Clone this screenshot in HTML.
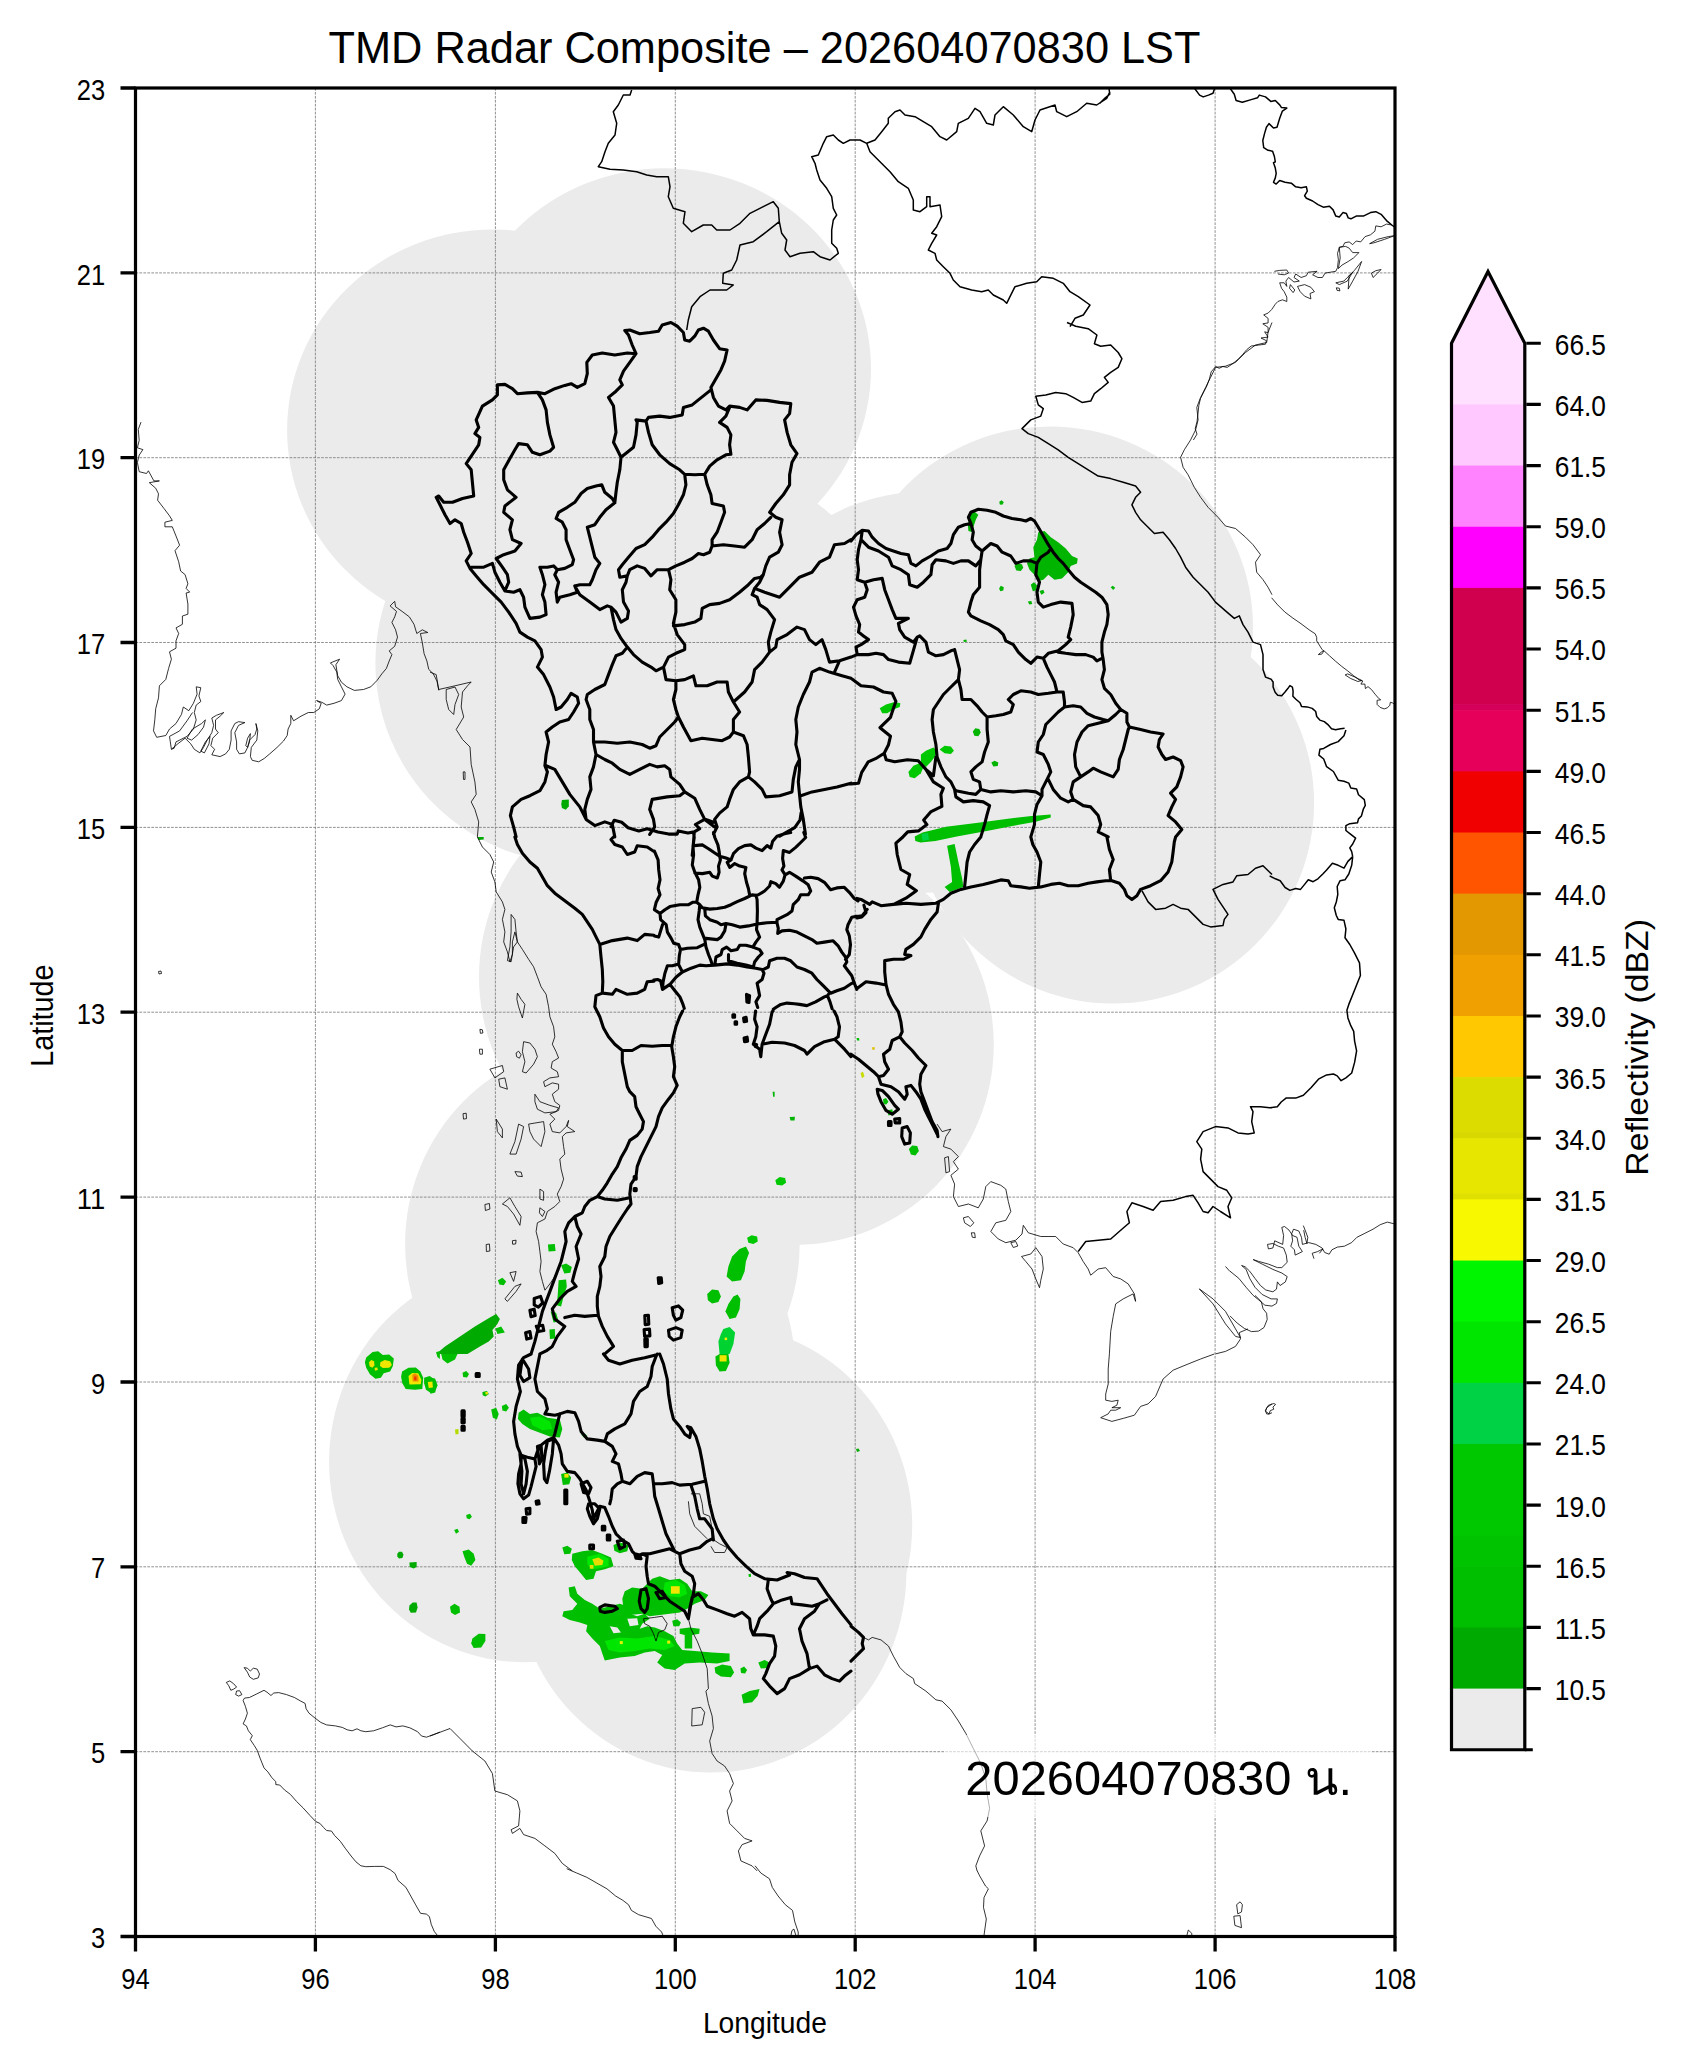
<!DOCTYPE html>
<html lang="th"><head><meta charset="utf-8"><title>TMD Radar Composite</title>
<style>
html,body{margin:0;padding:0;background:#fff;}
body{width:1686px;height:2070px;overflow:hidden;font-family:"Liberation Sans",sans-serif;}
svg{display:block}
text{font-family:"Liberation Sans",sans-serif;fill:#000}
text.ts{font-family:"Liberation Sans","Loma","Garuda","Noto Sans Thai","DejaVu Sans",sans-serif}
</style></head><body>
<svg width="1686" height="2070" viewBox="0 0 1686 2070">
<rect width="1686" height="2070" fill="#fff"/>
<defs><clipPath id="ax"><rect x="135.5" y="88.0" width="1259.5" height="1848.5"/></clipPath></defs>

<g clip-path="url(#ax)">
<g fill="#EBEBEB"><ellipse cx="664.6" cy="368.9" rx="206.4" ry="200.6"/><ellipse cx="492.6" cy="430.0" rx="205.5" ry="200.6"/><ellipse cx="578.0" cy="663.0" rx="202.6" ry="200.6"/><ellipse cx="694.9" cy="663.3" rx="202.6" ry="200.6"/><ellipse cx="925.9" cy="692.2" rx="202.2" ry="200.6"/><ellipse cx="1050.0" cy="627.0" rx="203.0" ry="200.6"/><ellipse cx="1113.0" cy="803.0" rx="201.1" ry="200.6"/><ellipse cx="678.4" cy="977.0" rx="199.4" ry="200.6"/><ellipse cx="795.0" cy="1044.3" rx="198.8" ry="200.6"/><ellipse cx="602.4" cy="1243.9" rx="197.3" ry="200.6"/><ellipse cx="598.8" cy="1369.6" rx="196.4" ry="200.6"/><ellipse cx="525.0" cy="1461.7" rx="195.9" ry="200.6"/><ellipse cx="716.6" cy="1524.9" rx="195.6" ry="200.6"/><ellipse cx="711.0" cy="1572.0" rx="195.4" ry="200.6"/></g>

<path d="M315.4 88.0V1936.5M495.4 88.0V1936.5M675.3 88.0V1936.5M855.2 88.0V1936.5M1035.1 88.0V1936.5M1215.1 88.0V1936.5M135.5 1751.7H1395.0M135.5 1566.8H1395.0M135.5 1382.0H1395.0M135.5 1197.1H1395.0M135.5 1012.2H1395.0M135.5 827.4H1395.0M135.5 642.5H1395.0M135.5 457.7H1395.0M135.5 272.9H1395.0" fill="none" stroke="#7d7d7d" stroke-width="0.85" stroke-dasharray="2.7 1.25"/>
<path d="M1038.3 532.2L1044.5 531.0L1050.8 537.2L1058.2 542.2L1065.7 548.5L1072.0 556.0L1077.7 558.5L1077.0 563.4L1070.7 565.9L1068.2 572.2L1062.0 578.4L1054.5 579.7L1048.3 574.7L1043.3 579.7L1038.3 580.9L1034.5 574.7L1029.5 569.7L1027.0 563.4L1029.5 558.5L1034.5 557.2L1033.3 547.2L1037.0 539.7Z" fill="#00B400"/>
<path d="M1014.5 565.9L1017.0 563.4L1022.0 564.2L1023.3 567.7L1020.8 570.9L1016.3 570.4Z" fill="#00B400"/>
<path d="M999.1 588.4L1000.8 585.7L1003.8 587.2L1003.3 590.4L1000.3 591.2Z" fill="#00B400"/>
<path d="M1030.8 584.7L1033.8 582.2L1037.0 585.2L1036.3 590.2L1032.8 591.2Z" fill="#00B400"/>
<path d="M1039.5 590.9L1043.3 589.7L1044.5 592.7L1041.3 594.7Z" fill="#00B400"/>
<path d="M1027.8 601.6L1031.3 600.9L1032.3 604.1L1029.3 604.6Z" fill="#00B400"/>
<path d="M969.6 513.5L974.6 511.8L978.3 514.8L975.8 519.8L973.3 527.2L972.8 532.2L968.4 531.0L967.9 524.7L968.9 519.8Z" fill="#00B400"/>
<path d="M999.3 501.8L1001.6 500.3L1003.8 502.3L1002.3 504.8L999.8 504.5Z" fill="#00B400"/>
<path d="M1110.7 587.2L1112.7 585.7L1115.2 587.7L1113.2 589.9Z" fill="#00B400"/>
<path d="M963.4 640.1L966.4 639.6L966.9 641.8L963.9 642.1Z" fill="#00B400"/>
<path d="M879.7 708.3L886.0 704.5L894.7 702.0L900.4 703.3L899.7 707.0L893.4 709.5L887.2 713.3L882.2 713.3Z" fill="#00C800"/>
<path d="M972.8 731.5L975.3 728.2L979.3 729.0L980.8 732.5L978.3 736.2L974.3 735.7Z" fill="#00B400"/>
<path d="M939.6 749.5L944.6 745.7L950.9 746.5L953.9 750.7L950.9 754.0L944.6 753.2Z" fill="#00C800"/>
<path d="M920.9 754.5L925.9 750.7L933.4 747.5L937.1 750.7L934.6 757.0L930.9 761.9L925.9 766.9L920.9 763.2Z" fill="#00C800"/>
<path d="M908.4 771.9L913.4 765.7L919.7 763.2L923.4 766.9L920.9 773.2L914.7 778.2L909.7 776.9Z" fill="#00C800"/>
<path d="M991.3 762.4L994.6 760.7L998.3 762.4L997.8 765.9L993.3 766.4Z" fill="#00B400"/>
<path d="M914.7 836.6L922.6 832.4L946.1 826.8L978.1 822.7L1008.0 818.7L1031.5 816.1L1050.7 814.6L1050.7 817.6L1035.8 821.7L1012.3 825.9L986.7 831.1L956.8 836.6L935.4 840.9L920.5 842.6L915.3 840.9Z" fill="#00BE00"/>
<path d="M921.5 834.1L927.9 833.0L929.0 839.4L922.6 840.9Z" fill="#00D246"/>
<path d="M561.9 799.9L568.8 799.5L568.8 806.3L565.8 809.7L561.9 808.0L561.3 804.2Z" fill="#00AA00"/>
<path d="M477.4 837.0L483.7 837.0L483.7 839.5L478.7 840.0Z" fill="#00AA00"/>
<path d="M772.6 1091.7L774.6 1091.7L774.6 1096.7L773.1 1096.7Z" fill="#00B400"/>
<path d="M789.6 1117.1L795.0 1116.7L794.5 1120.4L790.5 1120.6Z" fill="#00B400"/>
<path d="M775.3 1180.3L779.6 1177.1L785.1 1178.1L786.1 1182.8L782.1 1185.6L776.6 1184.8Z" fill="#00C800"/>
<path d="M747.1 1237.7L751.6 1235.3L757.1 1236.5L757.8 1241.5L753.3 1244.0L748.4 1242.7Z" fill="#00C800"/>
<path d="M739.6 1249.0L745.9 1246.5L749.1 1252.7L745.9 1261.5L744.6 1271.5L740.9 1280.2L732.1 1281.4L726.6 1276.5L728.4 1266.5L732.1 1256.5Z" fill="#00BE00"/>
<path d="M707.2 1293.9L712.1 1289.4L718.4 1290.2L720.9 1296.4L718.4 1301.9L712.1 1303.4L707.9 1300.2Z" fill="#00BE00"/>
<path d="M733.4 1296.4L737.6 1294.4L740.4 1298.9L739.6 1308.9L735.9 1317.6L729.6 1318.9L725.4 1311.4L728.4 1303.9Z" fill="#00BE00"/>
<path d="M723.4 1328.9L729.6 1326.9L735.1 1332.6L733.4 1343.9L729.6 1353.9L719.6 1353.9L718.4 1341.4L720.9 1333.9Z" fill="#00D232"/>
<path d="M724.6 1337.6L727.1 1337.6L727.1 1340.1L724.6 1340.1Z" fill="#F0F000"/>
<path d="M547.9 1244.5L554.8 1244.0L555.6 1251.0L548.6 1251.5Z" fill="#00BE00"/>
<path d="M561.1 1265.2L566.1 1263.5L571.8 1267.0L570.3 1272.7L564.3 1273.5Z" fill="#00BE00"/>
<path d="M558.6 1280.2L566.1 1279.4L566.8 1286.4L563.6 1296.4L561.1 1306.4L556.8 1305.2L557.8 1293.9Z" fill="#00BE00"/>
<path d="M550.6 1311.4L556.1 1312.7L558.6 1321.4L553.6 1322.6Z" fill="#00BE00"/>
<path d="M549.4 1329.4L554.8 1328.9L555.3 1338.4L549.9 1338.9Z" fill="#00BE00"/>
<path d="M497.9 1280.2L502.4 1277.7L506.2 1281.4L503.7 1285.2L499.4 1284.4Z" fill="#00BE00"/>
<path d="M436.2 1353.9L445.0 1346.4L460.0 1336.4L474.9 1326.4L489.9 1317.6L496.2 1313.9L499.9 1318.9L497.4 1323.9L492.4 1330.1L493.7 1336.4L488.7 1341.4L479.9 1346.4L467.5 1353.9Z" fill="#00AA00"/>
<path d="M495.4 1328.4L501.2 1326.4L504.9 1332.6L497.4 1333.9Z" fill="#00BE00"/>
<path d="M947.1 845.7L954.6 844.0L958.4 862.0L962.1 878.2L963.4 886.9L949.6 891.9L944.6 886.9L952.1 881.9L950.9 867.0Z" fill="#00BE00"/>
<path d="M908.9 1149.1L912.2 1145.4L917.2 1146.1L918.9 1151.1L915.4 1155.4L910.9 1154.6Z" fill="#00BE00"/>
<path d="M883.0 1099.2L886.0 1097.9L888.5 1101.7L886.0 1104.7L883.5 1103.2Z" fill="#00BE00"/>
<path d="M887.2 1110.4L892.2 1109.2L893.4 1114.2L888.5 1115.4Z" fill="#00BE00"/>
<path d="M860.5 1073.0L863.0 1071.7L864.5 1076.2L862.0 1078.2Z" fill="#C8DC00"/>
<path d="M872.2 1047.2L874.7 1047.2L874.7 1049.7L872.2 1049.7Z" fill="#E0C000"/>
<path d="M856.5 1038.0L859.0 1038.0L859.5 1040.5L857.0 1040.5Z" fill="#00BE00"/>
<path d="M572.3 1553.8L582.3 1551.3L592.3 1550.0L602.3 1553.8L611.0 1557.5L613.5 1566.2L604.8 1569.2L596.0 1571.2L593.5 1578.7L586.1 1580.0L581.1 1573.7L574.8 1566.2L571.8 1560.0Z" fill="#00BE00"/>
<path d="M587.3 1556.7L599.8 1553.8L608.5 1558.7L608.5 1566.2L599.8 1568.2L591.0 1569.2L587.3 1563.7Z" fill="#00E600"/>
<path d="M592.3 1559.2L598.5 1557.5L603.5 1560.7L602.3 1565.0L594.8 1565.7Z" fill="#E6DC00"/>
<path d="M589.8 1565.0L593.5 1565.0L593.5 1568.7L589.8 1568.7Z" fill="#E6DC00"/>
<path d="M562.3 1547.5L567.3 1545.8L571.8 1548.8L570.3 1553.8L564.3 1554.2Z" fill="#00BE00"/>
<path d="M613.5 1545.0L619.8 1542.5L628.5 1545.0L627.3 1551.3L619.8 1553.3L614.3 1550.8Z" fill="#00BE00"/>
<path d="M568.6 1587.5L574.8 1586.2L577.3 1593.7L584.8 1599.9L592.3 1603.7L599.8 1608.7L609.8 1606.2L619.8 1603.7L627.3 1606.2L629.8 1613.7L637.2 1616.2L644.7 1613.7L649.7 1618.7L642.2 1623.7L639.7 1628.7L647.2 1626.2L654.7 1627.4L664.7 1631.2L673.4 1636.1L677.2 1643.6L682.2 1649.9L694.7 1651.1L712.1 1652.4L729.6 1653.6L729.6 1661.1L717.1 1663.6L699.7 1662.4L684.7 1663.6L674.7 1669.9L664.7 1668.6L657.2 1662.4L662.2 1654.9L654.7 1651.1L644.7 1652.4L634.7 1656.1L619.8 1657.4L604.8 1660.6L602.3 1653.6L599.8 1646.1L592.3 1638.6L586.1 1631.2L587.3 1624.9L579.8 1622.4L569.8 1619.9L562.3 1616.2L563.6 1611.2L572.3 1609.9L577.3 1603.7L569.8 1596.2Z" fill="#00BE00"/>
<path d="M609.8 1626.2L617.3 1627.4L621.0 1632.4L613.5 1633.2Z" fill="#EBEBEB"/>
<path d="M627.3 1618.7L637.2 1618.2L638.5 1624.9L629.8 1626.2Z" fill="#EBEBEB"/>
<path d="M604.8 1641.1L619.8 1637.4L637.2 1638.6L654.7 1636.1L669.7 1639.9L674.7 1646.1L664.7 1649.9L649.7 1648.6L634.7 1651.1L619.8 1652.4L608.5 1649.9Z" fill="#00E600"/>
<path d="M619.8 1641.1L622.8 1641.1L622.8 1644.1L619.8 1644.1Z" fill="#E6F000"/>
<path d="M667.2 1640.6L670.2 1640.6L670.2 1643.6L667.2 1643.6Z" fill="#E6F000"/>
<path d="M624.8 1591.2L632.2 1587.5L642.2 1588.7L652.2 1578.7L659.7 1576.2L669.7 1580.0L679.7 1578.7L687.2 1583.7L692.2 1591.2L700.9 1591.2L708.4 1594.9L704.7 1599.9L694.7 1603.7L687.2 1608.7L679.7 1612.4L669.7 1613.7L659.7 1614.9L649.7 1616.2L642.2 1613.7L629.8 1614.9L623.5 1608.7L622.3 1598.7Z" fill="#00BE00"/>
<path d="M664.7 1582.5L675.9 1580.0L684.7 1585.0L687.2 1593.7L679.7 1597.4L669.7 1596.2L663.5 1591.2Z" fill="#00E600"/>
<path d="M670.9 1586.2L679.7 1586.2L679.7 1593.7L670.9 1593.7Z" fill="#F0E600"/>
<path d="M679.7 1628.7L689.7 1627.4L699.7 1628.7L699.2 1633.7L692.2 1634.9L692.2 1648.6L684.7 1648.6L684.7 1634.9L679.7 1633.7Z" fill="#00BE00"/>
<path d="M672.2 1620.7L677.2 1619.2L680.9 1622.4L679.2 1626.2L673.4 1626.2Z" fill="#00BE00"/>
<path d="M714.6 1667.4L722.1 1664.4L730.9 1666.1L734.1 1672.4L730.9 1677.3L720.9 1676.6L715.4 1673.1Z" fill="#00BE00"/>
<path d="M740.4 1668.6L744.1 1666.6L747.1 1669.9L745.1 1673.6L741.1 1673.1Z" fill="#00BE00"/>
<path d="M758.3 1662.4L764.6 1659.9L769.6 1662.4L767.6 1668.1L760.8 1668.6Z" fill="#00BE00"/>
<path d="M741.6 1694.8L749.6 1691.1L759.6 1689.1L757.6 1696.1L752.1 1702.3L743.4 1703.6Z" fill="#00BE00"/>
<path d="M441.2 1354.0L457.5 1354.0L455.0 1359.5L447.5 1363.5L442.5 1359.5Z" fill="#00BE00"/>
<path d="M430.0 1377.7L435.0 1378.5L437.5 1385.2L433.7 1392.7L430.0 1393.5Z" fill="#00BE00"/>
<path d="M430.0 1383.5L432.5 1383.5L432.5 1387.7L430.0 1387.7Z" fill="#F0E600"/>
<path d="M462.5 1372.7L466.2 1371.0L469.0 1374.0L467.0 1377.5L463.2 1377.0Z" fill="#00BE00"/>
<path d="M482.4 1392.0L486.9 1391.0L488.9 1394.0L485.4 1396.4L482.7 1395.2Z" fill="#00BE00"/>
<path d="M485.4 1392.0L487.9 1392.0L487.9 1394.4L485.4 1394.4Z" fill="#F0E600"/>
<path d="M491.2 1409.4L496.2 1407.7L498.7 1413.9L496.9 1419.4L492.9 1417.7Z" fill="#00BE00"/>
<path d="M501.9 1405.9L506.2 1403.9L508.9 1407.7L506.2 1411.4L502.4 1410.4Z" fill="#00BE00"/>
<path d="M455.0 1429.4L458.5 1428.9L458.5 1433.9L455.5 1434.4Z" fill="#B4DC00"/>
<path d="M518.6 1412.7L523.6 1409.4L529.9 1413.9L537.4 1412.7L547.4 1417.7L559.8 1419.4L562.3 1428.9L559.8 1437.6L549.9 1436.4L539.9 1432.7L529.9 1428.9L522.4 1423.9L517.9 1418.9Z" fill="#00BE00"/>
<path d="M529.9 1417.7L539.9 1416.4L549.9 1421.4L552.3 1428.9L542.4 1430.2L532.4 1425.2Z" fill="#00E600"/>
<path d="M561.1 1473.9L567.3 1472.6L571.1 1477.6L569.3 1484.3L562.8 1485.1Z" fill="#00BE00"/>
<path d="M564.3 1473.9L568.6 1473.9L568.6 1477.6L564.3 1477.6Z" fill="#F0E600"/>
<path d="M466.2 1515.0L470.0 1513.8L471.9 1516.8L469.5 1519.3L466.7 1518.3Z" fill="#00BE00"/>
<path d="M454.2 1530.0L457.5 1528.8L459.0 1531.8L456.0 1533.8Z" fill="#00BE00"/>
<path d="M462.5 1551.3L468.7 1549.5L473.7 1553.8L475.4 1560.0L471.2 1565.7L467.0 1563.7L464.5 1557.5Z" fill="#00BE00"/>
<path d="M450.0 1606.7L454.5 1603.7L459.5 1606.7L460.0 1612.4L455.0 1614.9L451.0 1612.4Z" fill="#00BE00"/>
<path d="M472.4 1638.6L478.7 1633.7L485.4 1634.1L485.4 1641.1L481.2 1647.4L473.7 1648.1L471.2 1643.6Z" fill="#00BE00"/>
<path d="M715.4 1356.5L719.6 1354.0L728.4 1354.0L729.6 1362.7L725.9 1371.0L719.6 1371.5L715.9 1365.2Z" fill="#00BE00"/>
<path d="M719.6 1355.2L726.6 1355.2L726.6 1361.5L719.6 1361.5Z" fill="#F0E600"/>
<path d="M581.1 1434.4L584.8 1433.4L587.3 1435.9L584.3 1437.9Z" fill="#00BE00"/>
<path d="M748.4 1574.2L750.8 1573.7L751.1 1576.7L748.9 1577.0Z" fill="#00BE00"/>
<path d="M856.0 1448.9L858.5 1448.4L860.0 1450.9L857.0 1451.9Z" fill="#00AA00"/>
<path d="M366.2 1357.6L372.6 1352.1L378.2 1351.2L382.8 1354.9L389.2 1354.5L393.8 1358.5L392.9 1365.9L390.1 1371.4L383.7 1373.2L380.9 1377.8L375.4 1378.8L369.9 1374.2L366.2 1367.7L364.9 1362.2Z" fill="#00BE00"/>
<path d="M369.0 1362.2L371.2 1360.0L374.1 1361.3L374.5 1365.5L372.3 1367.7L369.5 1366.2Z" fill="#F0E600"/>
<path d="M380.4 1362.2L384.6 1360.0L390.1 1361.3L391.9 1365.0L389.2 1367.7L382.8 1368.1L380.0 1365.9Z" fill="#F0E600"/>
<path d="M374.5 1367.7L377.4 1367.4L377.8 1370.1L375.0 1370.7Z" fill="#F0E600"/>
<path d="M402.1 1371.4L408.5 1367.7L415.8 1367.4L420.4 1371.4L423.2 1377.8L422.3 1388.9L414.9 1389.8L405.7 1388.9L402.4 1383.3L401.1 1376.9Z" fill="#00BE00"/>
<path d="M408.5 1376.0L412.2 1372.9L418.2 1373.2L421.4 1379.7L420.8 1384.3L409.4 1384.6Z" fill="#F0E600"/>
<path d="M412.2 1375.1L414.9 1373.2L418.2 1375.4L418.6 1381.5L412.7 1381.5Z" fill="#F08C00"/>
<path d="M414.2 1376.5L416.4 1376.5L416.4 1380.2L414.2 1380.2Z" fill="#F03000"/>
<path d="M424.1 1377.8L429.6 1376.0L435.1 1379.7L437.0 1386.1L435.1 1392.5L431.5 1393.5L426.0 1389.8L424.1 1383.3Z" fill="#00BE00"/>
<path d="M427.8 1382.1L432.4 1381.5L432.9 1387.6L428.7 1387.9Z" fill="#F0E600"/>
<path d="M436.1 1352.1L439.9 1351.2L439.9 1358.9L437.4 1357.1Z" fill="#00BE00"/>
<path d="M397.3 1553.7L399.0 1551.7L402.0 1551.7L403.5 1554.7L402.4 1558.0L399.0 1558.6L397.3 1556.6Z" fill="#00AA00"/>
<path d="M409.4 1562.5L416.6 1561.9L416.6 1567.0L413.7 1568.6L409.8 1567.0Z" fill="#00AA00"/>
<path d="M409.4 1605.5L412.7 1602.6L416.6 1602.6L417.6 1607.5L416.0 1612.4L410.8 1612.8L409.0 1609.5Z" fill="#00AA00"/>

<path d="M566.7 1868.7L576.7 1873.0L586.8 1877.3L596.9 1883.1L606.9 1888.8L615.6 1896.0L622.8 1900.3L628.5 1904.7L631.4 1910.4L638.6 1914.7L651.5 1918.5L655.8 1926.2L661.6 1932.0L663.0 1935.4M755.1 1865.8L760.8 1873.0L769.5 1878.8L772.3 1887.4L778.1 1896.0L785.3 1904.7L792.5 1910.4L794.8 1921.9L798.2 1932.0L798.2 1935.4M791.0 1935.4L791.9 1930.6L793.9 1929.1L795.9 1935.4M977.1 1870.7L979.7 1875.9L985.5 1886.0L988.4 1888.8L984.0 1897.5L983.5 1907.5L986.3 1919.0L984.0 1935.4M1236.6 1904.7L1240.1 1901.8L1242.4 1904.7L1241.5 1911.9L1237.8 1913.9ZM1233.8 1916.2L1240.1 1915.6L1241.5 1927.7L1234.9 1925.4ZM1186.9 1935.4L1188.3 1930.0L1191.8 1933.4L1191.8 1935.4M1271.6 597.8L1277.7 604.9L1284.8 612.0L1292.9 618.1L1301.0 623.7L1309.1 629.8L1315.2 633.8L1316.7 637.4L1316.7 640.9L1319.3 645.0L1321.8 649.1L1323.8 651.1L1321.8 654.1L1318.3 654.6L1321.3 652.1L1323.8 650.6L1329.4 655.7L1335.5 661.2L1341.6 666.3L1347.7 670.9L1353.8 675.9L1359.3 680.0L1362.9 681.0L1360.9 684.1L1364.9 684.1L1365.4 688.6L1368.0 686.6L1371.5 689.6L1375.1 694.2L1378.6 698.3L1380.7 699.8L1377.1 700.3L1377.1 704.4L1380.1 707.4L1384.2 708.9L1387.2 707.9L1389.8 705.4L1390.3 702.3L1392.3 702.8L1395.6 704.9M1345.1 674.9L1347.7 673.9L1354.8 677.0L1361.9 680.5L1357.8 681.5L1350.7 678.5ZM1394.5 1223.9L1387.3 1222.1L1380.2 1224.7L1373.0 1229.2L1364.1 1233.7L1356.9 1237.3L1351.6 1242.6L1344.4 1246.2L1337.3 1247.1L1331.9 1249.8L1329.2 1254.2L1324.7 1252.5L1322.1 1248.0L1315.8 1244.4L1308.7 1242.6L1302.4 1244.4L1301.5 1237.3L1298.8 1231.0L1293.5 1229.2L1291.7 1233.7L1292.6 1240.8L1290.8 1246.2L1294.4 1249.8L1295.2 1255.1L1302.4 1251.6L1298.8 1246.2L1297.0 1237.3L1292.6 1235.5L1289.0 1230.1L1284.5 1226.5L1281.8 1227.4L1283.6 1235.5L1282.7 1244.4L1274.7 1240.8L1272.9 1248.0L1268.4 1248.9L1267.5 1244.4L1272.9 1243.5L1278.3 1246.2L1283.6 1248.0L1286.3 1255.1L1287.2 1262.3L1281.8 1267.6L1277.4 1267.6L1268.4 1264.1L1258.6 1261.4L1253.2 1259.6L1262.2 1264.1L1272.9 1269.4L1281.8 1273.0L1287.2 1276.6L1285.4 1281.9L1280.1 1285.5L1277.4 1281.9L1276.5 1289.1L1272.9 1291.8L1265.8 1290.0L1260.4 1285.5L1255.0 1278.4L1249.7 1271.2L1245.2 1266.8L1241.6 1265.5L1246.1 1269.4L1249.7 1278.4L1255.0 1287.3L1262.2 1294.5L1271.1 1298.9L1277.4 1298.9L1276.5 1303.4L1272.0 1306.1L1264.9 1305.2L1258.6 1299.8L1253.2 1295.4L1246.1 1287.3L1238.9 1278.4L1230.0 1271.2M1230.0 1315.9L1237.2 1323.1L1244.3 1328.4L1251.5 1331.6L1258.6 1331.1L1264.0 1327.5L1267.2 1319.5L1266.6 1313.2L1263.1 1308.8L1261.3 1301.6L1255.0 1295.4M1303.3 1225.6L1305.1 1230.1L1307.8 1237.3L1306.9 1243.5L1305.1 1237.3L1303.7 1230.1M1314.0 1258.7L1312.2 1253.3L1317.6 1251.6L1323.0 1248.9L1319.4 1253.3M1265.4 1410.3L1268.4 1405.3L1273.8 1403.5L1275.6 1404.4L1272.9 1407.1L1273.8 1409.2L1270.2 1410.7L1269.0 1414.2L1266.6 1413.9ZM1272.0 322.5L1268.0 332.5L1266.7 342.5L1255.5 345.0L1245.5 352.5L1235.5 362.4L1225.5 366.2L1215.5 367.4L1210.6 377.4L1205.6 387.4L1200.6 397.4L1196.8 407.4L1198.1 419.9L1195.6 429.9L1190.6 439.9L1184.3 449.8L1180.6 457.3L1183.1 467.3L1188.1 474.8L1194.3 487.3L1200.6 497.3L1208.1 507.3L1218.0 517.3L1225.5 526.0L1235.5 528.5L1245.5 537.2L1253.0 544.7L1260.5 554.7L1255.5 562.2L1256.7 572.2L1263.0 579.7L1268.0 587.2L1272.0 594.7M477.4 837.0L482.4 847.0L489.9 854.5L493.7 862.0L491.2 872.0L494.9 881.9L496.2 891.9L502.4 901.9L504.9 909.4L502.4 919.4L504.9 931.9L503.7 941.9L507.4 951.9L509.9 961.8L512.4 954.4L512.4 941.9L514.9 931.9L517.4 941.9L522.4 949.4L528.6 959.3L533.6 966.8L537.4 976.8L541.1 986.8L546.1 994.3L548.6 1006.8L549.9 1016.8L553.6 1026.8L554.8 1036.8L552.3 1044.2L556.1 1051.7L558.6 1058.0L552.3 1061.7L551.1 1068.0L557.3 1071.7L558.6 1076.7L549.9 1077.9L543.6 1081.7L544.9 1086.7L552.3 1082.9L558.6 1084.2L558.6 1089.2L552.3 1094.2L554.8 1101.7L559.8 1105.4L558.6 1110.4L549.9 1114.2L554.8 1119.1L549.9 1124.1L552.3 1131.6L559.8 1132.9L566.1 1126.6L568.6 1120.4L567.3 1126.6L574.8 1131.6L566.1 1132.9L562.3 1136.6L563.6 1146.6L564.8 1154.1L559.8 1159.1L561.1 1169.1L563.6 1179.1L561.1 1186.6L557.3 1194.1L559.8 1201.5L554.8 1206.5L547.4 1211.5L544.9 1219.0L537.4 1222.8L536.1 1231.5L538.6 1241.5L539.9 1251.5L541.1 1261.5L539.9 1271.5L542.4 1281.4L544.9 1290.2L549.9 1283.9L554.8 1276.5L559.8 1266.5M511.1 914.4L514.9 919.4L516.1 931.9L517.4 941.9L513.6 946.9L511.1 961.8L507.4 960.6L509.9 946.9L511.1 931.9ZM517.4 993.1L521.1 999.3L524.9 1004.3L522.4 1018.0L518.6 1006.8L516.9 999.3ZM523.6 1041.7L529.9 1043.0L534.9 1049.2L537.4 1056.7L533.6 1064.2L526.1 1073.0L522.4 1071.7L524.9 1061.7L522.4 1051.7ZM516.1 1053.0L518.6 1051.2L521.1 1054.7L519.4 1058.2L516.6 1056.7ZM489.9 1069.2L502.4 1065.5L503.7 1071.7L494.9 1077.9ZM498.7 1079.2L504.9 1077.9L507.4 1089.2L499.9 1086.7ZM534.9 1094.2L539.9 1101.7L549.9 1105.4L558.6 1107.9L556.1 1111.7L544.9 1112.9L537.4 1109.2L534.9 1101.7ZM528.6 1124.1L543.6 1121.6L544.9 1131.6L541.1 1146.6L533.6 1139.1L529.9 1131.6ZM518.6 1124.1L523.6 1126.6L521.1 1139.1L516.1 1154.1L509.9 1154.1L514.9 1141.6ZM496.2 1119.1L502.4 1129.1L502.4 1137.9L497.4 1131.6ZM514.9 1171.6L521.1 1172.1L522.4 1176.6L517.4 1176.1ZM502.4 1204.0L509.9 1197.8L514.9 1206.5L521.1 1216.5L519.9 1225.3L513.6 1214.0L507.4 1206.5ZM484.9 1204.5L489.4 1203.5L489.9 1209.0L485.4 1210.5ZM539.9 1189.1L543.6 1191.6L543.6 1200.3L539.9 1199.0ZM539.9 1207.8L544.9 1211.5L542.4 1216.5L539.4 1212.8ZM486.2 1244.5L489.4 1244.0L489.9 1251.0L486.4 1251.5ZM512.4 1240.7L516.1 1240.2L515.6 1244.0L512.6 1244.2ZM509.9 1272.7L516.1 1271.5L513.6 1281.4ZM504.9 1298.9L514.9 1286.4L521.1 1283.9L516.1 1291.4L507.4 1301.4ZM479.9 1029.3L482.4 1029.8L482.9 1033.0L480.4 1033.3ZM479.4 1049.2L482.4 1049.2L482.4 1054.2L479.9 1054.2ZM463.0 1113.7L466.2 1113.2L466.5 1118.6L463.5 1119.1ZM937.1 1124.1L942.1 1131.6L950.9 1129.1L945.9 1136.6L943.4 1146.6L950.9 1149.1L958.4 1156.6L953.4 1161.6L958.4 1169.1L950.9 1175.3L954.6 1184.1L953.4 1196.6L958.4 1206.5L968.4 1204.0L978.3 1207.8L983.3 1199.0L985.8 1186.6L990.8 1181.6L1000.8 1185.3L1005.8 1189.1L1008.3 1201.5L1010.8 1211.5L1005.8 1220.3L995.8 1222.8L990.8 1231.5L998.3 1239.0L1005.8 1242.7L1015.8 1240.2L1022.0 1234.0L1023.3 1225.3L1028.3 1232.8L1040.8 1236.5L1055.7 1236.5L1063.2 1244.0L1073.2 1247.7L1078.2 1252.7L1083.2 1261.5L1088.2 1269.0L1090.7 1275.2L1098.2 1269.0L1105.7 1267.7L1113.2 1276.5L1120.7 1278.9L1128.2 1283.9L1134.4 1293.9L1135.6 1301.4L1133.1 1293.9L1123.2 1298.9L1115.7 1303.9L1113.2 1316.4L1110.7 1331.4L1109.4 1353.9M944.6 1157.8L948.4 1156.6L949.6 1171.6L945.9 1172.8ZM963.4 1217.8L968.4 1216.5L973.8 1222.8L970.4 1226.5L964.6 1222.8ZM971.3 1232.8L974.6 1232.8L975.3 1237.7L972.3 1237.2ZM1010.8 1242.7L1015.8 1241.5L1017.8 1246.0L1013.3 1247.5ZM1021.5 1256.5L1030.8 1254.0L1035.8 1247.7L1042.0 1256.5L1043.3 1269.0L1040.8 1280.2L1039.5 1287.7L1035.8 1278.9L1032.0 1269.0L1025.8 1261.5ZM1199.3 1288.9L1213.0 1303.9L1225.5 1323.9L1235.5 1336.4L1240.5 1337.6L1235.5 1328.9L1225.5 1311.4L1213.0 1298.9ZM1225.5 1266.5L1230.0 1271.5M1248.0 1328.9L1239.3 1332.6L1240.5 1338.9L1235.5 1346.4L1225.5 1351.4L1215.5 1353.9M643.5 1618.7L654.7 1617.4L662.2 1616.2L667.2 1623.7L664.7 1629.9L658.5 1632.4L656.0 1641.1L653.5 1633.7L649.7 1626.2L644.7 1623.7ZM690.9 1493.8L699.7 1493.8L702.2 1503.8L703.4 1513.8L709.7 1516.3L712.1 1528.8L712.1 1538.8L719.6 1543.8L727.1 1547.5L724.6 1552.5L714.6 1552.5L710.9 1546.3M688.4 1501.3L689.7 1513.8L694.7 1526.3L702.2 1533.8L707.2 1538.8M688.4 1618.7L690.9 1628.7L697.2 1641.1L702.2 1653.6L707.2 1668.6L708.4 1688.6L705.9 1691.1L708.4 1703.6L712.1 1716.0L713.4 1728.5L709.7 1741.0L712.1 1753.5L717.1 1761.0L724.6 1766.0L729.6 1773.5L733.4 1783.5L729.6 1791.0L732.1 1800.9L727.1 1810.9L729.6 1823.4L737.1 1830.9L744.6 1838.4L752.1 1840.9L742.1 1844.6L738.4 1850.9L740.9 1860.9L752.1 1865.9L757.1 1870.9M692.2 1708.6L700.9 1707.3L704.7 1712.3L702.2 1724.8L691.7 1726.0ZM430.0 1736.0L450.0 1728.5L460.0 1738.5L472.4 1751.0L484.9 1761.0L492.4 1773.5L494.9 1791.0L507.4 1794.7L517.4 1800.9L519.9 1810.9L518.6 1825.9L511.1 1829.7L512.4 1833.4L519.9 1828.4L523.6 1834.6L534.9 1838.4L544.9 1845.9L554.8 1853.4L562.3 1863.4L572.3 1870.9M863.5 1637.4L868.5 1639.9L872.2 1637.4L881.0 1639.9L888.5 1646.1L893.4 1656.1L899.7 1667.4L905.9 1673.6L913.4 1678.6L914.7 1683.6L925.9 1691.1L935.9 1699.8L942.1 1701.1L950.9 1709.8L958.4 1721.0L965.9 1733.5L973.3 1748.5L980.8 1763.5L985.8 1778.5L987.1 1793.5L989.6 1808.4L987.1 1820.9L980.8 1830.9L984.6 1845.9L979.6 1855.9L975.8 1865.9L977.1 1870.9M1109.4 1354.0L1108.2 1369.0L1108.2 1384.0L1105.7 1394.0L1105.7 1400.2L1111.9 1401.4L1118.2 1400.2L1116.9 1405.2L1111.9 1407.7L1120.7 1407.7L1115.7 1410.2L1110.7 1410.2L1108.2 1413.9L1100.7 1417.7L1111.9 1421.4L1123.2 1418.4L1134.4 1415.2L1140.6 1406.4L1148.1 1403.9L1155.6 1396.4L1163.1 1379.0L1173.1 1370.2L1188.1 1364.0L1200.6 1359.0L1214.3 1354.0M1272.0 1403.9L1266.7 1407.7L1265.5 1411.4L1269.2 1413.9L1272.0 1412.7M1391.8 225.0L1386.5 224.1L1381.1 226.8L1375.8 225.9L1374.9 231.2L1370.5 234.8L1365.1 236.6L1360.7 241.9L1356.2 241.0L1352.7 244.6L1349.1 241.9L1344.7 242.8L1342.9 246.4L1339.3 247.3L1337.5 253.5L1338.4 259.7L1337.5 267.7L1335.8 271.3L1330.4 272.2L1325.1 273.1L1322.4 277.5L1318.0 277.5L1312.6 274.8L1317.1 271.3L1308.2 272.2L1306.4 275.7L1301.1 277.5L1295.7 274.0L1294.0 277.5L1299.3 281.1L1294.0 282.0L1288.6 277.5L1285.9 281.1L1286.8 286.4L1284.2 282.8L1279.7 282.8L1281.5 288.2L1284.2 291.7L1286.8 297.1L1286.8 301.5L1282.4 299.8L1277.9 301.5L1275.3 304.2L1271.7 309.5L1268.1 313.1L1263.7 314.9L1268.1 318.4L1268.1 322.9L1262.8 323.8L1268.1 327.3L1268.1 332.7L1264.6 331.8L1268.1 337.1L1261.0 338.0L1266.4 340.7L1265.5 344.2L1258.4 345.1L1251.2 346.0L1246.8 349.6L1242.3 354.9L1237.9 359.4L1232.6 363.8L1227.2 367.4L1222.8 366.5L1219.2 368.3L1215.7 366.5L1211.2 371.8L1209.4 378.9L1206.8 386.0L1204.1 391.4L1200.5 398.5L1198.8 405.6L1197.9 414.5L1197.0 421.6L1195.2 428.8L1197.0 434.1L1193.4 440.0M1274.4 271.3L1279.7 270.4L1286.8 270.0L1288.6 273.1L1284.2 274.8L1277.9 274.0M1339.3 247.3L1345.6 246.4L1349.1 248.1L1352.7 252.6L1358.9 252.6L1353.6 257.9L1348.2 261.5L1342.0 265.1L1338.4 268.6L1340.2 257.9ZM1349.1 275.7L1354.4 270.4L1361.6 261.5L1358.0 271.3L1352.7 281.1L1348.2 289.1ZM1335.8 282.8L1343.8 281.1L1352.7 272.2L1347.3 281.1L1339.3 284.6ZM1297.5 286.4L1304.6 284.6L1310.9 287.3L1314.4 291.7L1310.0 293.5L1310.9 298.9L1304.6 296.2L1300.2 291.7ZM1290.4 284.6L1294.8 290.0L1293.1 292.6L1289.5 288.2ZM1369.6 243.7L1377.6 239.3L1388.3 236.6L1394.5 235.7L1384.7 239.3L1374.0 242.8ZM1371.4 273.1L1375.8 270.7L1381.1 269.5L1377.6 273.1L1373.1 277.5ZM1336.3 287.8L1339.3 288.2L1339.9 290.9L1337.0 290.3ZM141.0 422.1L138.3 429.4L139.2 440.4L137.4 447.8L142.9 449.6L139.2 455.1L137.4 462.5L139.2 471.7L146.5 473.5L148.4 470.8L153.9 480.9L159.4 480.9L149.3 482.7L155.7 488.2L158.5 493.8L157.6 500.2L164.0 508.5L169.5 515.8L172.3 520.4L164.9 522.2L164.9 526.8L172.3 526.8L176.0 536.0L179.6 545.2L175.0 550.7L178.7 561.8L180.6 571.0L185.1 574.6L187.9 583.8L186.1 588.4L189.7 592.1L186.1 593.0L187.9 604.0L187.9 614.2L182.4 616.0L182.4 624.3L176.0 627.9L178.7 633.5L176.0 640.8L176.0 648.2L169.5 651.8L171.4 659.2L168.6 668.4L165.8 679.4L159.4 685.8L158.5 697.8L155.7 708.8L154.8 719.9L153.5 730.9L156.7 737.3L165.8 735.5L169.5 729.0L176.0 723.5L181.5 714.3L183.3 707.0L188.8 710.7L193.4 703.3L197.1 694.1L196.2 686.8L200.8 687.7L198.9 696.0L200.8 701.5L196.2 705.1L194.3 712.5L196.2 719.9L193.4 729.0L187.0 736.4L176.0 741.9L174.1 748.3L171.4 749.3L169.5 736.4L179.6 730.9L187.0 720.8L192.5 712.5M171.4 749.3L177.8 743.8L185.1 738.2L190.7 743.8L194.3 749.3L199.9 752.9L203.5 747.4L207.2 740.1L211.8 732.7L213.6 725.4L211.8 718.0L216.4 715.3L223.8 712.5L220.1 716.2L215.5 719.9L215.5 729.0L218.2 732.7L212.7 738.2L210.9 745.6L214.6 749.3L211.8 754.8L220.1 756.6L225.6 753.9L229.3 749.3L231.1 740.1L231.1 730.9L234.8 723.5L238.5 721.7L244.9 722.6L238.5 725.4L234.8 732.7L236.6 741.9L236.6 749.3L239.4 753.9L244.9 752.9L247.6 747.4L249.5 740.1L255.0 734.6L256.8 729.0L255.9 723.5L257.8 730.9L256.8 740.1L251.3 747.4L250.4 756.6L252.2 760.3L258.7 761.8L264.2 758.5L269.7 753.9L277.1 747.4L283.5 741.0L287.2 735.5L288.1 729.0L290.8 723.5L290.8 715.3L293.6 720.8L301.0 716.2L308.3 712.5L313.8 712.5L319.3 708.8L321.2 703.3L316.6 700.6L322.1 702.4L326.7 705.1L334.0 703.3L341.4 700.6L345.1 694.1L341.4 686.8L337.7 679.4L336.8 672.1L333.1 665.6L330.4 662.9L339.6 659.2L335.9 664.7L337.7 675.7L341.4 682.2L346.9 686.8L354.3 690.4L363.5 689.5L370.8 686.8L377.2 680.3L381.8 673.9L386.4 668.4L389.2 661.0L391.9 654.6L389.2 650.9L394.7 646.3L397.5 637.1L395.6 629.8L391.9 622.4L394.7 616.9L396.5 611.4L390.1 605.9L394.7 601.3L395.6 606.8L402.1 611.4L409.4 616.9L414.0 624.3L416.8 633.5L422.3 629.8L427.8 632.5L420.4 633.5L422.3 642.6L424.1 653.7L426.9 661.0L428.7 669.3L433.3 673.9L437.0 681.2L438.8 690.4M187.0 738.2L192.5 729.0L201.7 723.5L205.4 719.9L203.5 727.2L198.0 734.6L191.6 740.1ZM200.8 751.1L205.4 741.9L210.0 736.4L209.0 743.8L204.4 752.9ZM245.8 745.6L247.6 738.2L250.4 733.6L249.5 741.9L247.6 747.4ZM430.0 672.1L436.2 674.6L438.7 689.5L455.0 685.8L471.2 682.0L467.5 685.8L462.5 692.0L461.2 707.0L463.7 717.0L456.2 729.5L462.5 739.5L470.0 747.0L471.2 764.4L474.9 781.9L476.2 794.4L471.2 801.9L474.9 809.4L478.7 821.9L477.4 836.9M446.2 689.5L455.0 687.0L458.7 694.5L455.0 704.5L453.7 714.5L448.7 709.5L446.2 699.5ZM463.2 771.9L465.0 771.9L465.0 779.4L463.5 779.4ZM243.1 1700.4L244.5 1698.1L249.4 1697.5L256.2 1694.2L264.0 1690.3L267.0 1692.2L270.9 1695.5L273.8 1693.0L278.7 1692.6L286.5 1694.6L294.4 1697.5L300.2 1700.8L305.1 1703.4L306.1 1708.7L309.0 1713.2L314.9 1718.0L320.8 1722.4L326.6 1724.9L335.4 1725.9L342.3 1727.4L347.2 1729.8L352.1 1730.8L357.0 1728.8L360.9 1730.8L365.8 1731.7L373.6 1730.8L382.4 1727.8L390.2 1724.9L396.1 1726.9L402.9 1725.9L409.8 1727.8L417.6 1731.7L421.5 1736.0L426.4 1737.2L433.3 1734.7L439.9 1732.1M243.1 1700.4L245.4 1706.3L247.4 1713.2L245.4 1719.0L243.1 1723.9L246.4 1725.9L248.4 1730.8L252.3 1735.7L250.3 1739.6L254.2 1745.4L257.2 1750.3L260.1 1758.2L264.0 1767.9L267.9 1771.9L271.9 1777.7L275.8 1781.6L275.8 1784.6L279.7 1785.0L284.6 1790.0L290.4 1794.4L296.3 1801.2L303.2 1808.0L310.0 1815.5L315.9 1821.7L319.8 1823.3L323.7 1827.6L326.6 1830.5L331.5 1831.1L334.5 1835.4L340.3 1841.3L345.2 1848.2L351.1 1856.0L356.0 1861.9L360.9 1865.8L365.8 1866.7L374.6 1866.4L383.4 1866.4L390.2 1869.7L395.1 1873.6L398.0 1880.4L405.9 1887.3L410.8 1896.1L415.7 1904.9L420.5 1913.3L426.4 1914.1L429.4 1916.6L431.3 1924.5L434.2 1931.3L437.2 1935.2M244.1 1667.6L247.4 1668.2L250.3 1671.1L253.3 1668.2L257.2 1669.1L259.5 1674.0L258.2 1677.9L253.3 1679.3L249.7 1677.0L247.4 1672.1ZM226.3 1682.4L229.8 1680.9L233.7 1683.8L236.6 1687.1L233.7 1689.1L230.8 1690.3L228.8 1685.8ZM236.6 1691.0L239.6 1690.7L241.9 1694.6L238.6 1696.1L235.7 1694.6ZM158.5 971.5L161.0 971.0L161.5 973.5L159.0 974.0Z" fill="none" stroke="#000" stroke-width="0.8" stroke-linejoin="round"/>
<path d="" fill="none" stroke="#000" stroke-width="1.9" stroke-linejoin="round"/>
<path d="M1271.6 680.0L1273.1 682.0L1273.1 687.1L1275.1 692.2L1277.7 695.2L1281.7 695.7L1284.8 692.2L1287.8 688.6L1289.9 685.6L1292.4 687.1L1293.1 691.2L1292.9 696.2L1295.9 699.3L1300.0 702.8L1301.5 706.4L1307.1 706.9L1312.2 708.4L1315.7 711.5L1316.7 716.5L1319.8 720.1L1324.3 721.6L1327.9 724.6L1331.5 728.7L1335.5 729.7L1340.6 728.7L1344.6 728.2M1345.9 730.0L1344.0 735.8L1338.2 741.6L1330.5 744.5L1323.7 748.4L1319.9 749.3L1318.9 755.1L1323.7 759.0L1326.6 766.7L1333.4 771.5L1338.2 780.2L1344.0 781.2L1348.8 783.1L1350.8 788.0L1356.6 788.9L1358.5 794.7L1364.3 799.6L1365.3 805.4L1363.3 809.2L1361.4 816.0L1358.5 818.9L1357.5 822.8L1349.8 823.7L1345.9 825.7L1345.9 830.5L1350.8 834.3L1355.6 838.2L1352.7 844.0L1349.8 847.9L1351.7 851.7L1352.7 856.6M1352.7 856.6L1347.9 861.4L1344.0 868.2L1338.2 865.3L1332.4 863.3L1326.6 870.1L1322.8 874.0L1317.9 878.8L1313.1 881.7L1308.3 879.8L1304.4 884.6L1300.5 889.4L1295.7 888.5L1289.9 890.4L1285.1 887.5L1280.2 880.7L1275.4 878.8L1269.6 875.9M1352.7 856.6L1351.7 865.3L1348.8 874.0L1345.0 879.8L1340.1 880.7L1337.2 886.5L1337.8 894.3L1336.3 902.0L1334.3 907.8L1336.3 915.5L1338.2 919.4L1344.0 920.3L1345.9 929.0L1345.0 937.7L1349.8 944.5L1354.6 953.2L1359.5 962.9L1360.4 975.4L1356.6 985.1L1352.7 994.7L1348.8 1004.4L1346.9 1010.2L1347.9 1017.9L1350.8 1025.7L1353.7 1031.4L1354.6 1041.1L1356.6 1050.8L1354.6 1062.4L1351.7 1073.0L1345.9 1077.8L1341.1 1080.7L1337.2 1075.9L1333.4 1074.0L1326.6 1074.9L1318.9 1078.8L1311.2 1087.5L1303.4 1095.2L1295.7 1098.1L1286.0 1098.1L1281.2 1102.0L1277.3 1106.8L1269.6 1107.8M1067.0 322.5L1075.7 326.2L1088.2 328.7L1096.9 335.0L1094.4 343.7L1100.7 346.2L1110.7 345.0L1118.2 352.5L1121.9 358.7L1118.2 367.4L1110.7 372.4L1104.4 377.4L1108.2 382.4L1100.7 388.7L1094.4 393.7L1090.7 401.1L1082.0 402.4L1073.2 397.4L1065.7 393.7L1055.7 392.4L1045.8 394.9L1035.8 396.2L1038.3 404.9L1043.3 408.6L1040.8 416.1L1030.8 419.9L1022.0 428.6L1028.3 433.6L1038.3 437.4L1048.3 443.6L1058.2 449.8L1068.2 457.3L1078.2 463.6L1088.2 469.8L1098.2 476.1L1110.7 478.6L1123.2 482.3L1135.6 486.0L1140.6 492.3L1135.6 497.3L1131.9 504.8L1135.6 512.3L1140.6 519.8L1148.1 527.2L1154.4 533.5L1163.1 532.2L1169.4 539.7L1175.6 548.5L1180.6 557.2L1185.6 567.2L1193.1 577.2L1200.6 584.7L1208.1 592.2L1215.5 602.1L1225.5 610.9L1234.3 618.4L1239.3 615.9L1243.0 624.6L1248.0 632.1L1253.0 642.1L1260.5 644.6L1263.0 654.6L1263.0 669.6L1265.5 677.1L1272.0 679.6M1078.2 1251.5L1085.7 1241.5L1098.2 1240.2L1110.7 1239.0L1120.7 1230.3L1129.4 1222.8L1126.9 1211.5L1131.9 1202.8L1143.1 1206.5L1153.1 1210.3L1160.6 1201.5L1173.1 1200.3L1185.6 1196.6L1193.1 1195.3L1198.1 1202.8L1203.1 1211.5L1208.1 1212.8L1213.0 1206.5L1220.5 1211.5L1230.5 1217.8L1228.0 1206.5L1231.8 1197.8L1226.8 1190.3L1218.0 1186.6L1210.6 1179.1L1203.1 1171.6L1200.6 1159.1L1201.8 1149.1L1196.8 1141.6L1203.1 1131.6L1215.5 1126.6L1228.0 1127.9L1238.0 1132.9L1248.0 1134.1L1254.2 1132.9L1251.7 1121.6L1253.0 1111.7L1250.5 1106.7L1260.5 1106.7L1272.0 1107.9M1141.9 890.7L1148.1 901.9L1155.6 909.4L1165.6 908.2L1173.1 904.4L1180.6 908.2L1188.1 909.4L1195.6 916.9L1203.1 924.4L1210.6 926.9L1223.0 925.6L1224.3 919.4L1228.0 914.4L1223.0 906.9L1218.0 899.4L1213.0 889.4L1223.0 884.4L1233.0 881.9L1236.8 875.7L1248.0 874.5L1255.5 868.2L1263.0 865.7L1272.0 874.5M631.7 90.0L630.0 95.0L623.3 95.0L618.3 105.0L613.3 111.7L616.7 123.3L615.0 135.0L608.3 143.3L605.0 151.7L601.7 161.7L598.3 166.7L610.0 169.3L623.3 170.0L636.7 171.7L646.7 175.0L656.7 176.7L668.3 176.7L670.0 186.7L668.3 196.7L673.3 208.3L685.0 211.7L683.3 223.3L691.7 231.7L703.3 225.0L711.7 225.0L716.7 230.0L730.0 230.0L740.0 223.3L750.0 213.3L763.3 206.7L773.3 201.7L778.3 208.3L779.3 221.7M779.3 221.7L766.7 231.7L753.3 241.7L740.0 245.0L736.7 260.0L731.7 270.0L723.3 273.3L722.7 283.3L733.3 285.0L726.7 290.0L710.0 290.0L700.0 296.7L691.7 306.7L688.3 320.0L686.7 330.0M779.3 221.7L781.7 233.3L786.7 240.0L785.0 250.0L790.0 256.7L800.0 253.3L813.3 251.7L820.0 256.7L830.0 260.0L838.3 253.3L836.7 248.3L831.7 243.3L831.7 230.0L833.3 220.0L836.7 215.0L833.3 208.3L831.7 196.7L826.7 188.3L820.0 180.0L816.7 170.0L815.0 163.3L811.7 156.7L818.3 155.0L823.3 143.3L826.7 136.7L833.3 135.0L838.3 140.0L843.3 143.3L850.0 140.0L860.0 140.0L866.7 143.3M866.7 143.3L875.0 140.0L881.7 131.7L888.3 123.3L888.3 118.3L895.0 111.7L900.0 110.0L905.0 115.0L915.0 116.7L923.3 121.7L931.7 126.7L940.0 136.7L946.7 140.0L956.7 131.7L958.3 123.3L968.3 118.3L975.0 108.3L980.0 111.7L986.7 123.3L993.3 125.0L995.0 115.0L1003.3 106.7L1013.3 115.0L1023.3 126.7L1031.7 131.7L1035.0 120.0L1040.0 110.0L1055.0 105.0L1056.7 111.7L1066.7 116.7L1076.7 111.7L1086.7 103.3L1096.7 105.0L1106.7 98.3L1110.0 91.7M866.7 143.3L870.0 151.7L880.0 161.7L890.0 171.7L898.3 181.7L908.3 188.3L913.3 200.0L913.3 210.0L920.0 211.7L926.7 206.7L926.7 196.7L930.0 196.7L930.0 206.7L940.0 205.0L941.7 216.7L936.7 226.7L931.7 233.3L936.7 235.0L931.7 243.3L928.3 250.0L935.0 253.3L936.7 260.0L943.3 266.7L950.0 273.3L953.3 280.0L960.0 286.7L971.7 290.0L981.7 291.7L988.3 290.0L993.3 295.0L1003.3 300.0L1006.7 303.3L1010.0 296.7L1015.0 286.7L1026.7 283.3L1036.7 281.7L1041.7 276.7L1053.3 278.3L1063.3 283.3L1070.0 291.7L1078.3 296.7L1090.0 305.0L1083.3 315.0L1075.0 318.3L1070.0 326.7M1100.0 103.1L1105.3 97.8L1109.8 94.2L1108.9 88.0M1194.3 88.0L1199.6 95.1L1203.2 96.9L1208.5 95.1L1213.0 93.3L1214.8 88.0M1229.9 88.0L1234.3 94.2L1236.1 100.5L1242.3 102.2L1251.2 99.6L1257.5 97.8L1259.3 95.1L1265.5 96.9L1270.8 101.4L1275.3 100.5L1279.7 104.9L1281.5 107.6L1286.8 108.1L1282.4 111.1L1279.7 118.3L1277.0 127.2L1273.5 128.0L1269.0 123.6L1266.4 127.2L1264.6 133.4L1262.8 140.5L1263.7 147.6L1268.1 150.3L1272.6 151.2L1274.4 156.5L1275.3 161.9L1273.5 162.7L1275.3 168.1L1276.2 173.4L1275.3 177.9L1273.5 182.3L1276.2 184.1L1279.7 180.5L1285.1 182.3L1291.3 183.2L1295.7 186.8L1301.1 187.7L1306.4 186.8L1307.3 191.2L1304.6 195.7L1306.4 198.3L1312.6 201.0L1318.0 204.6L1323.3 207.2L1329.5 206.3L1333.1 209.9L1335.8 216.1L1339.3 217.0L1342.9 212.6L1346.4 213.5L1348.2 217.9L1350.9 218.8L1356.2 216.1L1363.3 216.1L1370.5 212.6L1375.8 211.7L1381.1 214.3L1386.5 220.6L1391.8 225.0L1395.4 227.7" fill="none" stroke="#000" stroke-width="1.5" stroke-linejoin="round"/>

<path d="M516.1 836.9L513.6 826.9L510.4 815.6L512.4 806.9L521.1 799.4L529.9 795.7L539.9 790.7L544.9 781.9L547.4 771.9L544.9 765.7L546.1 754.5L548.6 742.0L546.1 732.0L552.3 727.0L559.8 722.0L568.6 719.5L573.6 712.0L578.6 703.3L577.3 697.0L571.1 693.3L567.3 699.5L561.1 707.0L556.1 709.5L553.6 697.0L549.9 687.0L543.6 674.6L537.4 667.1L542.4 657.1L541.1 649.6L534.9 640.8L527.4 637.1L519.9 632.1L516.1 623.4L508.7 612.1L501.2 602.1L492.4 593.4L483.7 584.7L476.2 575.9L470.0 568.4L466.2 560.9L471.2 553.5L467.5 542.2L463.7 532.2L461.2 523.5L455.0 519.8L450.0 523.5L445.0 514.8L440.0 504.8L436.2 497.3L438.7 496.0L443.7 502.3L452.5 502.3L462.5 498.5L473.7 496.0L472.4 482.3L471.2 469.8L466.2 463.6L471.2 456.1L478.7 444.8L479.9 437.4L474.9 433.6L478.7 427.4L476.2 419.9L482.4 406.1L492.4 399.9L497.4 394.9L497.4 384.9L504.9 384.4L512.4 388.7L517.4 393.7L527.4 392.9L537.4 392.4L544.9 393.7L554.8 388.7L564.8 385.4L571.1 383.7L577.3 387.4L584.8 383.7L587.3 373.7L586.8 362.4L592.3 355.0L602.3 353.0L614.8 355.0L627.3 353.0L636.0 353.7L632.2 345.0L628.5 335.0L624.8 330.5L629.8 330.0L639.7 333.7L649.7 332.5L658.5 331.2L662.2 325.0L670.9 322.5L677.2 326.2L683.4 332.5L684.7 340.0L689.7 341.2L694.7 336.2L698.4 330.0L703.4 328.2L708.4 331.2L713.4 340.0L719.6 348.7L727.1 350.0L724.6 361.2L720.9 369.9L715.9 378.7L710.9 387.4L713.4 397.4L718.4 406.1L725.9 409.9L729.6 406.1L739.6 407.4L747.1 409.9L755.8 399.9L767.1 400.4L779.6 402.4L790.8 403.6L789.6 413.6L784.6 419.9L787.1 432.4L790.8 444.8L797.0 453.6L792.0 462.3L789.6 474.8L789.6 484.8L783.3 494.8L775.8 503.5L769.6 512.3L775.8 517.3L782.1 519.8L779.6 532.2L782.1 544.7L778.3 552.2L769.6 557.2L765.8 565.9L763.3 574.7L759.6 582.2L754.6 588.4M537.4 392.4L542.4 399.9L546.1 409.9L547.4 422.4L549.9 434.9L553.6 447.3L549.9 451.1L539.9 454.8L532.4 452.3L527.4 444.8L518.6 443.6L514.9 449.8L509.9 458.6L503.7 469.8L503.7 479.8L507.4 489.8L516.1 497.3L504.9 506.0L503.7 512.3L512.4 519.8L509.9 529.7L512.4 539.7L521.1 543.5L514.9 551.0L503.7 554.7L496.2 558.5L502.4 567.2L507.4 574.7L508.7 582.2L504.9 590.9M471.2 567.2L483.7 567.2L492.4 563.4L494.9 572.2L499.9 582.2L504.9 590.9L513.6 592.2L519.9 589.7L523.6 597.2L524.9 607.1L529.9 618.4L539.9 617.1L546.1 614.6L544.9 602.1L542.4 594.7L544.9 584.7L542.4 574.7L539.9 567.2L547.4 567.2L553.6 565.9L557.3 569.7L564.8 568.4L572.3 564.7L573.6 559.7L569.8 549.7L566.1 539.7L566.1 529.7L562.3 522.2L556.1 518.5L558.6 512.3L567.3 507.3L574.8 502.3L581.1 493.5L587.3 488.5L596.0 486.0L601.8 484.8L604.8 492.3L612.3 498.5L614.8 502.8M614.8 502.8L606.0 509.8L599.8 517.3L594.8 524.7L587.3 527.2L589.8 537.2L592.3 547.2L594.8 557.2L599.8 563.4L596.0 569.7L592.3 579.7L589.8 584.7L579.8 584.7L574.8 585.9L577.3 592.2L569.8 594.7L559.8 597.2L557.3 602.1L556.1 592.2L558.6 582.2L554.8 574.7L557.3 569.7M636.0 353.7L629.8 362.4L623.5 371.2L619.8 379.9L622.3 384.9L616.0 391.2L608.5 397.4L613.5 406.1L614.8 419.9L616.0 432.4L613.5 442.3L617.3 449.8L621.0 457.3L619.8 469.8L617.3 482.3L616.0 492.3L614.8 502.8M621.0 457.3L627.3 452.3L633.5 447.3L636.0 434.9L637.2 422.4L636.0 419.9L646.0 421.1L648.5 417.4L659.7 416.1L669.7 417.4L682.2 414.9L683.4 407.4L692.2 404.9L698.4 399.9L704.7 394.9L710.9 389.9M646.0 421.1L648.5 432.4L652.2 444.8L659.7 454.8L669.7 463.6L679.7 469.8L684.7 474.3L694.7 474.8L704.7 474.3L709.7 466.1L717.1 459.8L725.9 454.8L730.9 454.3L729.6 444.8L730.9 434.9L727.1 427.4L719.6 422.4L725.9 416.1L729.6 407.4M684.7 474.3L685.9 484.8L683.4 494.8L678.4 504.8L673.4 513.5L666.0 522.2L658.5 529.7L652.2 537.2L644.7 544.7L636.0 548.5L628.5 557.2L622.3 564.7L618.5 569.7L619.8 577.2L627.3 575.9M627.3 575.9L629.8 569.7L637.2 565.9L644.7 568.4L651.0 575.9L657.2 569.7L668.5 569.7L670.9 579.7L669.7 589.7L675.9 599.7L675.9 612.1L673.4 623.4L677.2 634.6L684.7 644.6L684.7 649.6L675.9 653.3L668.5 657.1L663.5 667.1L656.0 670.8L651.0 667.1L642.2 662.1L633.5 654.6L627.3 647.1L621.0 638.4L616.0 629.6L613.5 619.6L611.0 607.1L616.0 612.1L621.0 622.1L627.3 618.4L628.5 610.9L623.5 602.1L622.3 589.7L626.0 582.2L627.3 575.9M574.8 585.9L579.8 594.7L589.8 602.1L599.8 609.6L607.3 605.9L611.0 607.1M704.7 474.3L707.2 484.8L710.9 494.8L712.1 503.5L723.4 506.0L724.6 512.3L720.9 522.2L717.1 532.2L712.1 539.7L712.1 546.0L723.4 544.7L734.6 546.0L744.6 547.2L752.1 539.7L757.1 529.7L764.6 523.5L770.8 517.3M712.1 546.0L709.7 552.2L703.4 554.7L698.4 553.5L692.2 558.5L684.7 562.2L675.9 565.9L668.5 569.7M673.4 625.9L684.7 624.6L694.7 622.1L700.9 618.4L702.2 608.4L709.7 604.6L719.6 603.4L729.6 599.7L739.6 592.2L748.4 584.7L754.6 578.4L760.8 577.2L763.3 574.7M627.3 647.1L622.3 653.3L616.0 655.8L612.3 664.6L608.5 674.6L604.8 684.5L594.8 689.5L587.3 694.5L586.1 699.5L589.8 709.5L589.8 719.5L593.5 729.5L593.5 742.0L596.0 754.5L593.5 766.9L589.8 776.9L591.0 789.4L587.3 799.4L584.8 809.4L586.1 819.4L594.8 825.6L604.8 821.9L612.3 824.4L614.8 836.9M663.5 667.1L666.0 679.6L675.9 680.8L675.9 689.5L673.4 699.5L675.9 709.5L678.4 717.0L674.7 722.0L667.2 729.5L659.7 737.0L656.0 745.7L649.7 748.2L642.2 744.5L629.8 742.0L617.3 743.2L604.8 742.0L593.5 742.0M675.9 680.8L684.7 679.6L693.4 675.8L695.9 685.8L707.2 685.8L717.1 682.0L727.1 682.0L728.4 692.0L733.4 702.0L739.6 712.0L733.4 719.5L733.4 732.0M733.4 702.0L744.6 692.0L752.1 682.0L754.6 669.6L762.1 662.1L769.6 652.1L768.3 642.1L770.8 632.1L774.6 619.6L767.1 609.6L759.6 604.6L757.1 597.2L752.1 594.7L754.6 588.4M678.4 717.0L683.4 727.0L690.9 740.7L702.2 738.2L712.1 739.5L722.1 740.7L729.6 737.0L733.4 732.0L743.4 735.7L747.1 744.5L748.4 757.0L749.6 771.9L748.4 776.9L754.6 781.9L762.1 789.4L765.8 796.9L779.6 795.7L792.0 791.9L793.3 779.4L795.8 766.9L799.5 759.5L795.8 744.5L797.0 732.0L795.8 719.5L798.3 707.0L803.3 694.5L809.5 682.0L812.0 672.1L819.5 668.3L829.5 672.1L842.0 675.8L851.0 678.3M769.6 652.1L775.8 647.1L777.1 639.6L787.1 634.6L797.0 627.1L804.5 629.6L809.5 639.6L815.8 644.6L822.0 639.6L825.8 649.6L829.5 662.1L839.5 660.8L851.0 657.1M839.5 660.8L834.5 672.1M754.6 588.4L764.6 592.2L779.6 597.2L789.6 587.2L799.5 577.2L812.0 572.2L819.5 562.2L829.5 557.2L834.5 544.7L844.5 543.5L851.0 539.7M748.4 776.9L739.6 781.9L733.4 789.4L729.6 799.4L727.1 806.9L719.6 813.1L714.6 819.4L717.1 826.9L713.6 834.0M596.0 754.5L604.8 759.5L612.3 763.2L619.8 769.4L629.8 774.4L639.7 769.4L649.7 764.4L657.2 766.9L664.7 765.7L669.7 769.4L670.9 776.9L679.7 784.4L684.7 791.9L694.7 798.2L699.7 809.4L704.7 819.4L714.6 826.9M652.2 799.4L667.2 796.9L679.7 795.7L684.7 791.9M652.2 799.4L649.7 809.4L653.5 819.4L654.7 826.9L649.7 834.4M546.1 765.7L554.8 769.4L562.3 781.9L569.8 794.4L579.8 806.9L586.1 819.4M799.5 759.5L799.5 769.4L798.3 781.9L799.5 794.4L800.8 806.9L803.3 819.4L805.4 834.0M800.8 795.7L812.0 791.9L824.5 789.4L837.0 786.9L851.0 783.2M863.9 905.2L866.0 912.7L861.8 916.9L857.0 918.0M851.0 541.0L856.0 534.7L862.2 530.2L868.5 531.0L872.2 537.2L878.5 543.5L886.0 548.5L893.4 551.0L900.9 553.5L908.4 554.7L910.9 563.4L915.9 565.9L922.2 560.9L930.9 556.0L938.4 551.0L947.1 548.5L950.9 543.5L953.4 534.7L958.4 527.2L964.6 524.7L970.9 523.5L968.4 517.3L970.9 512.3L978.3 509.3L987.1 510.3L995.8 512.3L1003.3 516.0L1012.0 518.5L1020.8 519.8L1025.8 521.0L1030.8 518.5L1034.5 521.0L1038.3 527.2L1043.3 536.0L1048.3 544.7L1053.2 552.2L1058.2 558.5L1063.2 563.4L1068.2 569.7L1074.5 577.2L1080.7 582.2L1088.2 587.2L1095.7 592.2L1101.9 597.2L1106.9 604.6L1108.2 614.6L1106.9 624.6L1104.4 632.1L1101.9 642.1L1101.9 652.1L1103.2 659.6L1104.4 669.6L1101.9 679.6L1104.4 688.3L1110.7 694.5L1115.7 703.3L1120.7 709.5L1126.9 713.3L1126.9 722.0L1129.4 727.0L1140.6 729.5L1150.6 732.0L1163.1 734.0L1159.4 739.5L1158.1 747.0L1161.9 754.5L1165.6 759.5L1173.1 757.0L1180.6 760.7L1183.1 766.9L1180.6 776.9L1176.8 786.9L1170.6 793.2L1175.6 799.4L1171.8 806.9L1168.1 815.6L1175.6 821.9L1181.8 829.4L1175.6 836.9M862.2 531.0L861.0 539.7L858.5 549.7L857.2 559.7L858.5 569.7L857.2 579.7L864.7 582.2L867.2 589.7L864.7 597.2L857.2 599.7L853.5 607.1L856.0 615.9L859.7 624.6L858.5 632.1L863.5 635.9L868.5 639.6L861.0 644.6L856.0 647.1L857.2 654.6L851.0 657.1M857.2 654.6L868.5 654.6L876.0 653.3L883.5 654.6L888.5 659.6L898.4 662.1L909.7 663.3L912.2 654.6L914.7 645.8L917.2 637.1L919.7 635.9L925.9 642.1L928.4 652.1L935.9 655.8L943.4 654.6L950.9 650.8L954.6 649.6M864.7 582.2L873.5 579.7L882.2 578.4L884.7 589.7L888.5 599.7L892.2 609.6L895.9 618.4L908.4 618.4L898.4 623.4L899.7 629.6L904.7 637.1L913.4 642.1L917.2 637.1M861.0 539.7L868.5 547.2L878.5 551.0L888.5 557.2L892.2 565.9L900.9 569.7L908.4 574.7L909.7 584.7L917.2 587.2L923.4 582.2L930.9 574.7L932.1 564.7L935.9 559.7L945.9 560.9L953.4 563.4L960.9 560.9L968.4 560.9L975.8 565.9L980.8 559.7L982.1 551.0M970.9 523.5L973.3 532.2L972.1 539.7L975.8 546.0L982.1 551.0L980.8 559.7L979.6 569.7L979.6 579.7L979.6 587.2L973.3 594.7L970.9 602.1L968.4 612.1L970.9 615.9L980.8 620.9L989.6 624.6L998.3 629.6L1003.3 634.6L1005.8 640.8L1013.3 644.6L1018.3 652.1L1025.8 659.6L1030.8 663.3L1037.0 657.1L1043.3 658.3M982.1 551.0L990.8 543.5L997.1 546.0L1002.1 552.2L1010.8 556.0L1015.8 563.4L1023.3 560.9L1030.8 560.9L1037.0 563.4L1040.8 557.2L1048.3 552.2L1050.8 548.5M1037.0 563.4L1035.8 574.7L1039.5 582.2L1037.0 592.2L1038.3 602.1L1043.3 607.1L1050.8 604.6L1060.7 602.1L1072.0 603.4L1073.2 614.6L1070.7 627.1L1068.2 637.1L1070.7 639.6L1065.7 644.6L1058.2 650.8L1048.3 653.3L1043.3 658.3M1058.2 652.1L1065.7 653.3L1075.7 654.6L1085.7 654.6L1093.2 657.1L1096.9 660.8L1101.9 658.3M954.6 649.6L957.1 659.6L959.6 669.6L958.4 679.6L960.9 689.5L962.1 699.5L970.9 699.5L977.1 705.8L982.1 712.0L987.1 717.0L995.8 715.8L1003.3 714.5L1010.8 712.0L1013.3 704.5L1008.3 699.5L1013.3 694.5L1020.8 690.8L1030.8 692.0L1038.3 694.5L1048.3 693.3L1057.0 692.0M1043.3 658.3L1047.0 667.1L1050.8 674.6L1054.5 682.0L1057.0 692.0L1063.2 692.0L1064.5 702.0L1064.5 707.0M958.4 679.6L950.9 687.0L943.4 694.5L938.4 702.0L933.4 709.5L932.1 719.5L933.4 732.0L935.9 744.5L937.1 757.0L940.9 766.9L945.9 776.9L950.9 781.9L954.6 789.4M987.1 717.0L987.1 729.5L988.3 742.0L984.6 752.0L982.1 761.9L975.8 766.9L970.9 771.9L973.3 779.4L979.6 781.9L980.8 789.4L975.8 794.4L968.4 793.2L955.9 790.7L954.6 789.4M980.8 789.4L990.8 791.9L1000.8 790.7L1013.3 791.9L1025.8 790.7L1035.8 791.9L1042.0 795.7M1064.5 707.0L1058.2 712.0L1050.8 719.5L1045.8 724.5L1043.3 734.5L1038.3 742.0L1037.0 752.0L1043.3 754.5L1048.3 764.4L1050.8 771.9L1048.3 776.9L1045.8 781.9L1042.0 789.4L1042.0 795.7L1037.0 804.4L1034.5 814.4L1034.5 824.4L1030.8 836.9M1064.5 707.0L1073.2 705.8L1080.7 707.0L1087.0 713.3L1094.4 717.0L1103.2 719.5L1108.2 720.7L1115.7 714.5L1120.7 709.5M1108.2 720.7L1098.2 723.2L1088.2 725.7L1082.0 732.0L1077.0 742.0L1074.5 754.5L1075.7 766.9L1080.7 776.9L1088.2 771.9L1093.2 768.2L1100.7 771.9L1113.2 776.9L1118.2 769.4L1119.4 759.5L1123.2 749.5L1125.7 739.5L1128.2 729.5L1129.4 727.0M1080.7 776.9L1073.2 781.9L1070.7 791.9L1073.2 799.4L1068.2 801.9L1060.7 798.2L1053.2 789.4L1048.3 779.4M1073.2 799.4L1083.2 805.6L1090.7 806.9L1098.2 815.6L1100.7 824.4L1098.2 831.9L1108.2 836.9M925.9 769.4L933.4 781.9L943.4 788.2L940.9 794.4L941.9 806.4L931.1 811.6L923.7 820.1L926.9 824.6L918.4 830.9L907.7 831.9L903.4 836.4M954.6 789.4L955.9 796.9L963.4 801.9L973.3 800.6L983.3 801.9L989.6 805.6L987.1 814.4L984.6 824.4L980.8 836.9M851.0 678.3L861.0 685.8L873.5 687.0L883.5 692.0L892.2 693.3L895.9 701.3L892.2 712.0L890.5 717.3L880.0 727.7L890.5 736.2L888.5 744.7L884.2 753.2L886.2 759.7L894.7 761.7L907.4 759.7L918.2 760.7L925.9 769.4L933.4 775.7L934.6 766.9L935.9 757.0M884.2 753.2L875.5 758.7L868.2 761.9L861.7 772.4L858.5 783.2L851.0 783.9M644.8 1315.6L648.4 1315.2L648.8 1324.2L645.2 1324.6ZM644.1 1329.5L649.5 1329.1L649.9 1335.9L644.6 1336.3ZM644.8 1339.1L647.3 1339.1L647.3 1346.6L645.0 1346.6ZM534.2 1298.5L540.6 1296.4L542.7 1302.8L538.4 1307.1L534.2 1304.9ZM529.9 1310.3L534.2 1309.2L535.2 1315.6L531.0 1316.7ZM536.3 1326.3L542.7 1325.2L543.8 1330.6L538.4 1331.6ZM525.6 1332.7L529.9 1331.6L531.0 1338.0L526.7 1339.1ZM693.6 832.5L694.2 837.5L693.0 846.2L693.6 854.9L692.3 864.9L694.8 872.3L698.6 879.8L699.8 887.3L698.0 894.8L696.7 902.2L699.8 904.7M694.2 845.6L702.3 844.9L708.5 848.7L714.8 853.0L719.7 856.2L726.0 858.0L731.0 859.9M713.5 832.5L714.8 837.5L717.9 844.9L719.1 851.2L719.7 856.2M694.8 873.0L702.3 873.6L709.8 872.3L712.3 876.1L717.3 878.0L719.1 872.3L718.5 866.1L720.4 859.9L719.7 856.2M731.0 859.9L733.4 853.7L738.4 848.7L744.7 845.6L750.9 844.9L755.9 848.1L762.1 850.6L767.1 845.6L770.8 848.1L772.7 841.2L777.0 836.2L784.5 833.7L790.7 832.5M731.0 859.9L727.2 862.4L729.7 867.4L734.7 863.6L739.7 866.1L745.9 867.4L744.7 873.6L746.5 882.3L748.4 888.5L749.6 894.8L755.9 895.4M803.8 832.5L805.7 837.5L800.7 842.5L795.7 847.4L789.5 852.4L783.3 850.6L782.6 858.6L783.9 866.1L782.0 869.9L785.1 874.8L783.3 881.1L779.5 887.3L775.8 883.6L770.8 881.7L769.6 886.0L764.6 891.0L758.4 894.8L755.9 895.4M785.1 874.8L789.5 872.3L795.7 876.1L803.2 881.1L808.2 884.8L810.7 891.0L808.2 894.8L800.7 894.8L798.2 899.7L793.2 904.7L792.0 911.0L787.0 914.7L782.0 917.2L777.0 919.7L777.0 922.8M804.4 878.0L810.7 877.3L818.1 878.6L824.4 882.3L830.6 889.8L836.8 887.9L844.3 887.3L849.3 892.3L854.3 898.5L858.0 901.0M699.8 904.7L702.3 907.8L709.8 909.1L717.3 908.5L724.7 907.2L731.0 904.7L737.2 901.6L744.7 898.5L752.1 894.8L755.9 895.4M755.9 895.4L757.1 899.7L757.4 911.0L757.1 922.8L756.5 929.6L759.6 937.1L755.9 942.1L752.8 947.1M699.8 904.7L699.2 911.0L698.0 919.7L699.8 927.1L702.3 933.4L704.8 939.6L706.0 947.1L708.5 954.5L711.0 960.8L712.3 965.1M704.8 909.7L705.4 915.9L709.8 919.7L717.3 922.2L721.0 924.7L726.0 923.4L732.2 924.7L739.7 927.1L748.4 925.9L757.1 924.0L767.1 922.8L777.0 922.2M726.0 924.0L724.7 930.9L721.0 937.1L717.3 939.6L706.0 938.4M777.0 922.8L778.3 928.4L777.7 933.4L782.0 930.9L789.5 930.3L797.0 932.1L804.4 935.9L811.9 939.6L816.9 943.3L824.4 942.1L833.1 940.8L838.1 945.8L841.8 952.1L845.5 957.0L846.8 962.0L844.3 965.8L848.0 970.7L851.8 975.7L854.3 983.2L856.8 989.4M752.8 947.1L745.9 945.2L739.7 945.2L737.2 949.6L731.0 950.8L726.6 947.1L722.2 949.6L721.0 954.5L716.0 957.0L714.8 964.5M728.5 954.5L728.5 960.8L737.2 963.3L745.9 965.1L753.4 967.0M752.8 947.1L759.6 949.6L762.1 953.3L758.4 957.0L754.6 962.0L753.4 967.0M662.5 989.4L669.9 984.4L676.2 977.0L682.4 972.0L691.1 968.2L699.8 965.1L706.0 965.8L714.8 965.1L727.2 963.9L737.2 965.1L747.1 967.0L755.9 968.2L762.1 969.5L764.0 973.2L762.1 979.5L757.1 983.2L758.4 989.4L759.6 995.6L755.9 1001.9L757.7 1007.5M762.1 970.1L768.3 967.0L769.6 960.8L777.0 958.3L784.5 958.3L790.7 960.8L797.0 967.0L804.4 969.5L811.9 973.2L816.9 979.5L821.9 984.4L828.1 990.7L830.6 993.2L836.8 990.7L844.3 988.2L851.8 983.2L854.3 983.2M654.4 851.2L658.1 859.9L658.7 869.9L660.0 879.8L658.1 888.5L660.0 894.8L656.2 902.2L654.4 909.7L660.0 913.4L664.9 909.7L669.9 906.6L679.9 904.7L688.6 904.7L693.0 902.2L696.7 902.2M660.0 913.4L660.6 919.7L666.2 924.7L667.4 932.1L671.2 938.4L673.7 943.3L678.6 944.6L680.5 949.6M662.5 924.7L658.7 937.1L654.4 936.1M680.5 949.6L687.4 948.3L697.3 947.7L703.6 944.6M680.5 949.6L679.3 955.8L678.6 964.5L681.8 970.7M678.6 963.9L672.4 965.8L667.4 965.8L664.9 973.2L663.1 981.9L662.5 989.4M856.8 916.2L851.8 917.2L848.0 924.7L846.8 929.6L849.3 935.9L850.5 944.6L849.3 954.5L845.5 959.5M746.5 994.4L749.6 995.6L749.0 1002.5L746.9 1001.9ZM653.7 980.1L657.5 979.5L660.6 980.7L662.5 989.4M669.9 984.4L674.9 990.7L679.9 996.9L683.0 1004.4L684.3 1008.4M773.3 1009.3L775.8 1007.5L780.8 1004.4L787.0 1003.1L794.5 1003.7L799.5 1004.4L806.9 1005.6L815.6 1001.9L824.4 996.9L827.5 995.6L829.3 993.2M827.5 995.6L830.0 1001.9L832.1 1008.7M611.0 826.6L614.2 820.2L621.7 822.3L628.1 827.7L638.8 830.9L647.3 828.7L658.0 831.9L668.7 834.1L677.2 834.1L678.3 830.9L687.9 833.0L694.3 831.9L699.7 828.7L695.4 824.5L705.0 819.1L713.5 822.3M694.3 831.9L693.3 844.7L692.2 855.4M779.7 836.2L787.2 831.9L794.7 827.7L800.0 820.2L801.1 812.7M514.9 837.0L517.4 844.5L522.4 853.2L529.9 862.0L537.4 868.2L542.4 877.0L547.4 885.7L554.8 893.2L564.8 900.7L574.8 908.2L582.3 914.4L587.3 921.9L592.3 929.4L596.0 936.9L599.8 944.4L601.0 956.9L602.3 969.3L602.8 981.8L602.3 993.1L596.0 995.6L594.8 1006.8L599.8 1016.8L603.5 1028.0L608.5 1036.8L614.8 1044.2L622.3 1050.5L622.3 1061.7L624.8 1074.2L627.3 1086.7L629.8 1091.7L634.7 1096.7L636.0 1106.7L639.7 1114.2L643.5 1121.6L642.2 1129.1L637.2 1135.4L629.8 1140.4L626.0 1149.1L621.0 1157.8L617.3 1166.6L612.3 1174.1L607.3 1182.8L602.3 1190.3L597.3 1196.6L589.8 1200.3L584.8 1206.5L582.3 1212.8L574.8 1216.5L568.6 1222.8L564.8 1231.5L566.1 1241.5L563.6 1251.5L561.1 1261.5L557.3 1271.5L553.6 1281.4L549.9 1291.4L546.1 1301.4L542.4 1311.4L539.9 1321.4L537.4 1331.4L534.9 1341.4L531.1 1353.9M760.8 1056.7L759.6 1049.2L753.3 1044.2L755.8 1036.8L757.1 1026.8L754.6 1019.3L755.6 1011.0M682.6 1011.0L679.7 1016.8L675.9 1026.8L673.4 1036.8L671.7 1046.7L673.4 1056.7L674.7 1066.7L673.4 1076.7L677.2 1085.4L673.4 1092.9L668.5 1099.2L662.2 1107.9L658.5 1116.7L656.0 1126.6L651.0 1136.6L646.0 1146.6L641.0 1156.6L637.2 1166.6L636.0 1176.6L631.0 1184.1L629.8 1194.1L631.0 1204.0L627.3 1209.0L622.3 1216.5L616.0 1226.5L609.8 1236.5L606.0 1246.5L604.8 1256.5L599.8 1266.5L601.0 1276.5L599.8 1286.4L597.3 1296.4L597.3 1306.4L598.5 1316.4L602.3 1326.4L607.3 1336.4L613.5 1346.4L604.8 1353.9M574.8 1216.5L577.3 1226.5L581.1 1234.0L576.1 1246.5L578.6 1259.0L574.8 1271.5L572.3 1281.4L576.1 1286.4L567.3 1291.4L559.8 1298.9L552.3 1308.9L554.8 1318.9L564.8 1326.4L557.3 1336.4L552.3 1346.4L546.1 1350.9L539.9 1353.9M564.8 1317.6L574.8 1315.2L584.8 1316.4L597.3 1315.2M597.3 1196.6L604.8 1199.0L617.3 1200.3L629.8 1197.8M599.8 944.4L612.3 940.6L627.3 938.1L637.2 940.6L644.7 934.4L654.0 935.2M654.0 851.5L647.2 847.0L637.2 845.7L634.7 852.0L627.3 854.5L622.3 847.0L614.8 844.5L611.0 839.5L613.5 837.0M602.8 993.1L612.3 994.3L616.0 989.3L627.3 994.3L637.2 993.1L644.7 989.3L647.2 981.8L654.0 981.1M622.3 1050.5L632.2 1050.5L641.0 1045.5L652.2 1046.2L662.2 1045.5L671.7 1045.5M834.1 1011.0L837.0 1016.8L839.5 1026.8L838.2 1036.8L834.5 1039.2L844.5 1049.2L851.0 1056.7M762.1 1044.2L765.8 1034.3L769.6 1024.3L772.1 1011.8L773.1 1011.0M760.8 1056.7L762.1 1044.2L772.1 1042.2L784.6 1043.0L794.5 1045.5L804.5 1050.5L807.0 1054.2L814.5 1046.7L824.5 1041.7L834.5 1039.2M732.9 1014.8L734.6 1014.8L734.6 1017.3L732.9 1017.3ZM735.1 1021.8L736.6 1021.8L736.6 1024.3L735.1 1024.3ZM743.6 1018.0L746.1 1017.3L746.6 1021.3L744.1 1021.8ZM744.1 1038.0L747.1 1037.2L747.6 1041.2L744.6 1041.7ZM754.1 1043.7L756.6 1044.7L755.6 1046.7ZM634.2 1176.6L636.2 1176.6L636.2 1179.1L634.2 1179.1ZM634.2 1188.6L636.2 1188.6L636.2 1190.6L634.2 1190.6ZM658.2 1277.7L661.2 1277.7L661.7 1282.7L658.7 1283.4ZM672.2 1307.7L678.4 1305.9L682.7 1310.2L680.9 1317.6L675.9 1320.1L673.4 1315.2ZM668.5 1330.1L675.9 1327.6L682.2 1330.1L680.9 1337.6L673.4 1340.1L669.2 1336.4ZM857.0 898.4L861.0 899.4L869.7 904.4L872.2 901.9L881.0 905.7L893.4 904.4L905.9 903.2L920.9 904.4L935.9 903.2L943.4 899.4L950.9 893.2L960.9 889.4L970.9 886.9L983.3 884.4L993.3 881.9L1000.8 879.9L1008.3 880.7L1010.8 885.7L1020.8 886.9L1029.5 888.2L1040.8 886.9L1050.8 884.4L1059.5 883.2L1068.2 885.7L1078.2 885.7L1088.2 883.2L1096.9 881.9L1105.7 880.7L1111.9 880.7L1119.4 883.2L1124.4 889.4L1126.9 895.7L1131.9 899.4L1136.9 895.7L1140.6 889.4L1150.6 885.7L1160.6 880.7L1168.1 872.0L1171.8 862.0L1173.1 852.0L1174.3 842.0L1175.6 837.0M964.6 886.9L965.9 874.5L967.1 862.0L969.6 852.0L974.6 844.5L980.8 837.0M1038.3 886.9L1039.5 874.5L1040.8 862.0L1037.0 852.0L1032.8 844.5L1030.8 837.0M1110.7 880.7L1109.4 869.5L1113.2 859.5L1109.4 849.5L1106.9 837.0M902.9 837.0L895.9 843.2L897.2 854.5L900.9 869.5L909.7 874.5L907.2 884.4L916.4 890.7L905.9 898.2L894.7 903.9M857.0 916.5L862.2 915.7L867.2 909.4M938.4 903.2L937.1 911.9L930.9 919.4L924.7 929.4L920.9 936.9L913.4 944.4L905.9 949.4L904.7 954.4L910.9 955.6L903.4 959.3L893.4 959.3L884.7 960.6L884.7 971.8L886.0 984.3L888.5 994.3L893.4 1004.3L898.4 1011.8L900.9 1021.8L902.2 1031.8L899.7 1036.8L904.7 1043.0L912.2 1050.5L918.4 1058.0L925.9 1065.5L920.9 1074.2L919.7 1084.2L920.9 1091.7L924.7 1101.7L928.4 1111.7L932.1 1121.6L937.1 1130.4L937.9 1136.6M899.7 1036.8L892.2 1040.5L889.7 1049.2L883.5 1054.2L884.7 1061.7L888.5 1069.2L883.5 1075.5L878.5 1076.7M857.0 988.5L866.0 981.8L876.0 983.1L884.7 984.8M851.0 1054.2L858.5 1059.2L866.0 1065.5L873.5 1071.7L878.5 1076.7L881.0 1084.2L891.0 1086.7L898.4 1091.7L904.7 1099.2L907.2 1094.2L905.9 1086.7L910.9 1085.4L915.9 1091.7L920.9 1099.2L924.7 1109.2L928.4 1116.7L933.4 1126.6L937.1 1134.1M877.2 1089.2L882.2 1090.4L888.5 1096.7L894.7 1105.4L898.4 1109.2L892.2 1114.2L886.0 1110.4L881.0 1101.7L878.0 1094.2ZM902.2 1127.9L907.2 1126.6L910.4 1132.9L909.7 1142.9L904.7 1144.1L901.7 1136.6ZM888.5 1121.6L891.0 1121.6L891.0 1125.4L888.5 1125.4ZM894.7 1119.1L899.7 1118.6L899.7 1122.9L895.2 1122.9ZM531.1 1354.0L523.6 1357.7L518.6 1365.2L517.4 1379.0L520.4 1391.5L516.1 1406.4L513.6 1421.4L514.9 1433.9L517.4 1446.4L521.1 1455.1L521.1 1463.9L518.6 1473.9L517.9 1483.8L519.9 1493.8L523.6 1498.8L528.6 1495.1L531.1 1486.3L533.6 1476.3L536.1 1466.4L534.9 1458.9L537.4 1451.4L541.1 1445.1L547.4 1440.1L553.6 1437.6M522.4 1359.0L528.6 1369.0L529.9 1377.7L523.6 1381.5L519.9 1375.2L521.1 1366.5ZM547.4 1441.4L553.6 1438.9L552.3 1453.9L549.4 1471.4L546.9 1482.6L544.4 1478.8L543.6 1463.9L545.4 1451.4ZM521.1 1455.1L528.6 1457.6L534.9 1458.9M553.6 1437.6L558.6 1445.1L561.1 1453.9L562.3 1463.9L567.3 1471.4L574.8 1472.6L579.8 1478.8L586.1 1490.1L589.8 1501.3L592.3 1510.1L593.5 1518.8L596.0 1513.8L599.8 1506.3L604.8 1507.6L608.5 1516.3L612.3 1526.3L616.0 1533.8L622.3 1540.0L628.5 1543.8L632.2 1551.3L637.2 1556.2L642.2 1553.8L647.2 1556.2L646.0 1566.2L647.2 1576.2L648.5 1583.7L654.7 1586.2L662.2 1593.7L669.7 1601.2L677.2 1606.2L684.7 1611.2L688.4 1618.7M539.9 1354.0L537.4 1366.5L534.9 1379.0L537.4 1391.5L544.9 1398.9L547.4 1408.9L544.9 1413.9L554.8 1415.2L559.8 1413.9L567.3 1411.4L574.8 1412.7L578.6 1421.4L581.1 1431.4L587.3 1438.9L597.3 1440.1L604.8 1441.4M559.8 1413.9L557.3 1423.9L554.8 1433.9L553.6 1437.6M604.8 1441.4L607.3 1433.9L614.8 1428.9L624.8 1423.9L631.0 1413.9L633.5 1401.4L639.7 1391.5L647.2 1386.5L651.0 1376.5L652.2 1366.5L656.0 1356.5L657.2 1354.0M603.5 1354.0L608.5 1360.2L619.8 1364.0L632.2 1360.2L644.7 1357.7L654.7 1355.2M659.7 1354.0L663.5 1364.0L667.2 1379.0L668.5 1394.0L670.9 1408.9L673.4 1418.9L679.7 1426.4L684.7 1433.9L689.7 1437.6L690.9 1431.4L687.2 1426.4L690.9 1427.7L695.9 1436.4L699.7 1448.9L702.2 1461.4L704.7 1476.3L707.2 1488.8L709.7 1503.8L713.4 1518.8L717.1 1528.8L723.4 1540.0L729.6 1548.8L737.1 1557.5L745.9 1566.2L754.6 1573.7L764.6 1578.7L777.1 1580.0L789.6 1575.0L787.1 1572.5L794.5 1573.7L804.5 1577.5L817.0 1578.7L822.0 1586.2L827.0 1593.7L834.5 1603.7L842.0 1613.7L851.0 1624.9M604.8 1441.4L612.3 1446.4L616.0 1453.9L612.3 1461.4L618.5 1463.9L621.0 1473.9L622.3 1481.3L617.3 1483.8L612.3 1488.8L611.0 1498.8L609.8 1503.8M622.3 1481.3L629.8 1483.8L637.2 1476.3L644.7 1472.6L652.2 1473.9L653.5 1483.8L662.2 1483.8L672.2 1482.6L679.7 1485.1L692.2 1484.3L704.7 1481.3M653.5 1483.8L654.7 1496.3L658.5 1508.8L662.2 1521.3L666.0 1533.8L670.9 1543.8L674.7 1551.3L679.7 1553.8M642.2 1553.8L649.7 1553.8L659.7 1551.3L669.7 1548.8L674.7 1551.3M679.7 1553.8L689.7 1550.0L699.7 1547.5L707.2 1541.3L712.1 1538.8M690.9 1485.1L694.7 1496.3L697.2 1508.8L699.7 1518.8L704.7 1518.8L712.1 1528.8L713.4 1540.0M679.7 1553.8L680.9 1563.7L684.7 1571.2L692.2 1576.2L694.7 1583.7L693.4 1593.7L690.9 1603.7L688.4 1618.7M688.4 1618.7L689.7 1608.7L692.2 1597.4L698.4 1593.7L703.4 1599.9L707.2 1606.2L717.1 1609.9L727.1 1613.7L734.6 1616.2L742.1 1612.4L749.6 1618.7L750.8 1628.7L753.3 1634.9L764.6 1634.9L773.3 1636.1L775.8 1646.1L774.6 1656.1L769.6 1663.6L765.8 1673.6L763.3 1678.6L769.6 1686.1L777.1 1693.6L784.6 1688.6L789.6 1678.6L799.5 1674.8L809.5 1668.6L817.0 1666.1L824.5 1674.8L832.0 1678.6L839.5 1681.1L844.5 1676.1L851.0 1671.1M768.3 1580.0L767.1 1588.7L770.8 1598.7L773.3 1603.7L782.1 1599.9L790.8 1597.4L792.0 1603.7L802.0 1604.9L812.0 1606.2L819.5 1603.7L827.0 1599.9M773.3 1603.7L767.1 1611.2L759.6 1618.7L757.1 1626.2L753.3 1634.9M819.5 1603.7L814.5 1611.2L804.5 1618.7L799.5 1628.7L802.0 1641.1L807.0 1653.6L809.5 1668.6M526.1 1508.8L529.9 1508.3L529.9 1513.8L526.6 1514.3ZM522.9 1517.5L526.1 1517.5L525.6 1522.5L522.9 1522.5ZM564.8 1490.1L566.8 1490.1L566.8 1503.8L564.8 1503.8ZM589.8 1545.0L593.5 1545.0L593.5 1548.8L589.8 1548.8ZM602.3 1526.3L604.8 1526.3L604.8 1530.0L602.3 1530.0ZM607.3 1535.0L609.8 1535.0L609.8 1540.0L607.3 1540.0ZM581.1 1483.8L587.3 1481.3L591.0 1487.6L588.6 1493.8L583.6 1492.6ZM588.6 1503.8L594.8 1503.8L599.8 1508.8L597.3 1518.8L593.5 1523.8L589.8 1516.3L587.3 1508.8ZM599.8 1607.4L604.8 1604.9L614.8 1606.2L617.3 1608.7L612.3 1611.2L604.8 1612.4L600.3 1611.2ZM641.0 1590.0L646.0 1588.7L648.5 1598.7L647.2 1608.7L644.7 1612.4L641.0 1608.7L639.2 1601.2ZM617.3 1541.3L623.5 1540.0L624.8 1546.3L619.8 1548.8ZM476.2 1373.5L479.2 1373.5L479.2 1376.5L476.2 1376.5ZM462.0 1410.9L464.2 1410.9L464.2 1416.4L462.0 1416.4ZM462.0 1418.4L464.2 1418.4L464.2 1422.7L462.0 1422.7ZM462.0 1426.4L464.2 1426.4L464.2 1430.2L462.0 1430.2ZM519.9 1453.9L524.9 1458.9L527.4 1471.4L526.1 1483.8L523.6 1493.8L521.1 1483.8L521.9 1471.4ZM537.4 1446.4L541.1 1445.1L541.9 1458.9L539.4 1463.9ZM536.1 1501.3L538.6 1500.8L539.1 1503.8L536.6 1504.3ZM656.0 1592.5L662.2 1591.2L666.0 1597.4L659.7 1598.7ZM634.7 1553.8L639.7 1555.0L641.0 1558.7L636.0 1558.2ZM851.0 1626.2L858.5 1632.4L863.5 1637.4L862.2 1643.6L863.5 1648.6L858.5 1653.6L851.0 1661.1" fill="none" stroke="#000" stroke-width="3.1" stroke-linejoin="round" stroke-linecap="round"/>

</g>
<rect x="135.5" y="88.0" width="1259.5" height="1848.5" fill="none" stroke="#000" stroke-width="3.2"/>
<path d="M135.5 1936.5v15M315.4 1936.5v15M495.4 1936.5v15M675.3 1936.5v15M855.2 1936.5v15M1035.1 1936.5v15M1215.1 1936.5v15M1395.0 1936.5v15M135.5 1936.5h-15M135.5 1751.7h-15M135.5 1566.8h-15M135.5 1382.0h-15M135.5 1197.1h-15M135.5 1012.2h-15M135.5 827.4h-15M135.5 642.5h-15M135.5 457.7h-15M135.5 272.9h-15M135.5 88.0h-15" fill="none" stroke="#000" stroke-width="3.3"/>
<text x="135.5" y="1988.6" font-size="29.5" text-anchor="middle" textLength="28.4" lengthAdjust="spacingAndGlyphs">94</text>
<text x="315.4" y="1988.6" font-size="29.5" text-anchor="middle" textLength="28.4" lengthAdjust="spacingAndGlyphs">96</text>
<text x="495.4" y="1988.6" font-size="29.5" text-anchor="middle" textLength="28.4" lengthAdjust="spacingAndGlyphs">98</text>
<text x="675.3" y="1988.6" font-size="29.5" text-anchor="middle" textLength="42.6" lengthAdjust="spacingAndGlyphs">100</text>
<text x="855.2" y="1988.6" font-size="29.5" text-anchor="middle" textLength="42.6" lengthAdjust="spacingAndGlyphs">102</text>
<text x="1035.1" y="1988.6" font-size="29.5" text-anchor="middle" textLength="42.6" lengthAdjust="spacingAndGlyphs">104</text>
<text x="1215.1" y="1988.6" font-size="29.5" text-anchor="middle" textLength="42.6" lengthAdjust="spacingAndGlyphs">106</text>
<text x="1395.0" y="1988.6" font-size="29.5" text-anchor="middle" textLength="42.6" lengthAdjust="spacingAndGlyphs">108</text>
<text x="105.2" y="1948.1" font-size="29.5" text-anchor="end" textLength="14.2" lengthAdjust="spacingAndGlyphs">3</text>
<text x="105.2" y="1763.2" font-size="29.5" text-anchor="end" textLength="14.2" lengthAdjust="spacingAndGlyphs">5</text>
<text x="105.2" y="1578.4" font-size="29.5" text-anchor="end" textLength="14.2" lengthAdjust="spacingAndGlyphs">7</text>
<text x="105.2" y="1393.5" font-size="29.5" text-anchor="end" textLength="14.2" lengthAdjust="spacingAndGlyphs">9</text>
<text x="105.2" y="1208.7" font-size="29.5" text-anchor="end" textLength="28.4" lengthAdjust="spacingAndGlyphs">11</text>
<text x="105.2" y="1023.9" font-size="29.5" text-anchor="end" textLength="28.4" lengthAdjust="spacingAndGlyphs">13</text>
<text x="105.2" y="839.0" font-size="29.5" text-anchor="end" textLength="28.4" lengthAdjust="spacingAndGlyphs">15</text>
<text x="105.2" y="654.1" font-size="29.5" text-anchor="end" textLength="28.4" lengthAdjust="spacingAndGlyphs">17</text>
<text x="105.2" y="469.3" font-size="29.5" text-anchor="end" textLength="28.4" lengthAdjust="spacingAndGlyphs">19</text>
<text x="105.2" y="284.5" font-size="29.5" text-anchor="end" textLength="28.4" lengthAdjust="spacingAndGlyphs">21</text>
<text x="105.2" y="99.6" font-size="29.5" text-anchor="end" textLength="28.4" lengthAdjust="spacingAndGlyphs">23</text>
<text x="764.9" y="2033.2" font-size="29.7" text-anchor="middle" textLength="124" lengthAdjust="spacingAndGlyphs">Longitude</text>
<text transform="translate(53.3,1015.6) rotate(-90)" font-size="30.7" text-anchor="middle" textLength="102.5" lengthAdjust="spacingAndGlyphs">Latitude</text>
<text x="764.5" y="62.5" font-size="44.6" text-anchor="middle" textLength="872" lengthAdjust="spacingAndGlyphs">TMD Radar Composite – 202604070830 LST</text>
<rect x="944" y="1735" width="428" height="82" fill="#fff" fill-opacity="0.6" clip-path="url(#ax)"/>
<text x="965.3" y="1794.7" font-size="48.8" class="ts" textLength="386.7" lengthAdjust="spacingAndGlyphs">202604070830 น.</text>
<defs><clipPath id="cb"><path d="M1451.5 343.3 L1488 271.5 L1524.8 343.3 V1749.75 H1451.5Z"/></clipPath></defs><g clip-path="url(#cb)">
<rect x="1449.5" y="263.81" width="77.29999999999995" height="141.24" fill="#FFE1FF"/>
<rect x="1449.5" y="404.45" width="77.29999999999995" height="61.75" fill="#FFC8FF"/>
<rect x="1449.5" y="465.60" width="77.29999999999995" height="61.75" fill="#FF82FF"/>
<rect x="1449.5" y="526.75" width="77.29999999999995" height="61.75" fill="#FF00FF"/>
<rect x="1449.5" y="587.90" width="77.29999999999995" height="116.79" fill="#D0004F"/>
<rect x="1449.5" y="704.09" width="77.29999999999995" height="6.72" fill="#D4005A"/>
<rect x="1449.5" y="710.20" width="77.29999999999995" height="61.75" fill="#E6005A"/>
<rect x="1449.5" y="771.35" width="77.29999999999995" height="61.75" fill="#F00000"/>
<rect x="1449.5" y="832.50" width="77.29999999999995" height="61.75" fill="#FF5500"/>
<rect x="1449.5" y="893.65" width="77.29999999999995" height="61.75" fill="#E39700"/>
<rect x="1449.5" y="954.80" width="77.29999999999995" height="61.75" fill="#F0A000"/>
<rect x="1449.5" y="1015.95" width="77.29999999999995" height="61.75" fill="#FFC800"/>
<rect x="1449.5" y="1077.10" width="77.29999999999995" height="55.64" fill="#DCDC00"/>
<rect x="1449.5" y="1132.13" width="77.29999999999995" height="6.72" fill="#D8D800"/>
<rect x="1449.5" y="1138.25" width="77.29999999999995" height="55.64" fill="#E6E600"/>
<rect x="1449.5" y="1193.29" width="77.29999999999995" height="6.72" fill="#E0E000"/>
<rect x="1449.5" y="1199.40" width="77.29999999999995" height="61.75" fill="#F8F800"/>
<rect x="1449.5" y="1260.55" width="77.29999999999995" height="61.75" fill="#00F500"/>
<rect x="1449.5" y="1321.70" width="77.29999999999995" height="61.75" fill="#00E600"/>
<rect x="1449.5" y="1382.85" width="77.29999999999995" height="61.75" fill="#00D246"/>
<rect x="1449.5" y="1444.00" width="77.29999999999995" height="92.32" fill="#00C800"/>
<rect x="1449.5" y="1535.72" width="77.29999999999995" height="31.18" fill="#00C300"/>
<rect x="1449.5" y="1566.30" width="77.29999999999995" height="61.75" fill="#00BE00"/>
<rect x="1449.5" y="1627.45" width="77.29999999999995" height="61.75" fill="#00AA00"/>
<rect x="1449.5" y="1688.60" width="77.29999999999995" height="61.75" fill="#EBEBEB"/>
</g>
<path d="M1451.5 343.3 L1488 271.5 L1524.8 343.3 V1749.75 H1451.5Z" fill="none" stroke="#000" stroke-width="3.2" stroke-linejoin="miter"/>
<text x="1554.8" y="354.7" font-size="29.5" textLength="51.2" lengthAdjust="spacingAndGlyphs">66.5</text>
<text x="1554.8" y="415.8" font-size="29.5" textLength="51.2" lengthAdjust="spacingAndGlyphs">64.0</text>
<text x="1554.8" y="477.0" font-size="29.5" textLength="51.2" lengthAdjust="spacingAndGlyphs">61.5</text>
<text x="1554.8" y="538.1" font-size="29.5" textLength="51.2" lengthAdjust="spacingAndGlyphs">59.0</text>
<text x="1554.8" y="599.3" font-size="29.5" textLength="51.2" lengthAdjust="spacingAndGlyphs">56.5</text>
<text x="1554.8" y="660.4" font-size="29.5" textLength="51.2" lengthAdjust="spacingAndGlyphs">54.0</text>
<text x="1554.8" y="721.6" font-size="29.5" textLength="51.2" lengthAdjust="spacingAndGlyphs">51.5</text>
<text x="1554.8" y="782.8" font-size="29.5" textLength="51.2" lengthAdjust="spacingAndGlyphs">49.0</text>
<text x="1554.8" y="843.9" font-size="29.5" textLength="51.2" lengthAdjust="spacingAndGlyphs">46.5</text>
<text x="1554.8" y="905.1" font-size="29.5" textLength="51.2" lengthAdjust="spacingAndGlyphs">44.0</text>
<text x="1554.8" y="966.2" font-size="29.5" textLength="51.2" lengthAdjust="spacingAndGlyphs">41.5</text>
<text x="1554.8" y="1027.4" font-size="29.5" textLength="51.2" lengthAdjust="spacingAndGlyphs">39.0</text>
<text x="1554.8" y="1088.5" font-size="29.5" textLength="51.2" lengthAdjust="spacingAndGlyphs">36.5</text>
<text x="1554.8" y="1149.7" font-size="29.5" textLength="51.2" lengthAdjust="spacingAndGlyphs">34.0</text>
<text x="1554.8" y="1210.8" font-size="29.5" textLength="51.2" lengthAdjust="spacingAndGlyphs">31.5</text>
<text x="1554.8" y="1272.0" font-size="29.5" textLength="51.2" lengthAdjust="spacingAndGlyphs">29.0</text>
<text x="1554.8" y="1333.1" font-size="29.5" textLength="51.2" lengthAdjust="spacingAndGlyphs">26.5</text>
<text x="1554.8" y="1394.2" font-size="29.5" textLength="51.2" lengthAdjust="spacingAndGlyphs">24.0</text>
<text x="1554.8" y="1455.4" font-size="29.5" textLength="51.2" lengthAdjust="spacingAndGlyphs">21.5</text>
<text x="1554.8" y="1516.5" font-size="29.5" textLength="51.2" lengthAdjust="spacingAndGlyphs">19.0</text>
<text x="1554.8" y="1577.7" font-size="29.5" textLength="51.2" lengthAdjust="spacingAndGlyphs">16.5</text>
<text x="1554.8" y="1638.8" font-size="29.5" textLength="51.2" lengthAdjust="spacingAndGlyphs">11.5</text>
<text x="1554.8" y="1700.0" font-size="29.5" textLength="51.2" lengthAdjust="spacingAndGlyphs">10.5</text>
<path d="M1526.3 343.3h14.5M1526.3 404.4h14.5M1526.3 465.6h14.5M1526.3 526.8h14.5M1526.3 587.9h14.5M1526.3 649.0h14.5M1526.3 710.2h14.5M1526.3 771.4h14.5M1526.3 832.5h14.5M1526.3 893.7h14.5M1526.3 954.8h14.5M1526.3 1016.0h14.5M1526.3 1077.1h14.5M1526.3 1138.2h14.5M1526.3 1199.4h14.5M1526.3 1260.5h14.5M1526.3 1321.7h14.5M1526.3 1382.8h14.5M1526.3 1444.0h14.5M1526.3 1505.1h14.5M1526.3 1566.3h14.5M1526.3 1627.4h14.5M1526.3 1688.6h14.5M1524.8 1749.75h8" fill="none" stroke="#000" stroke-width="3.1"/>
<text transform="translate(1648.3,1047.4) rotate(-90)" font-size="32" text-anchor="middle" textLength="256.5" lengthAdjust="spacingAndGlyphs">Reflectivity (dBZ)</text>
</svg></body></html>
